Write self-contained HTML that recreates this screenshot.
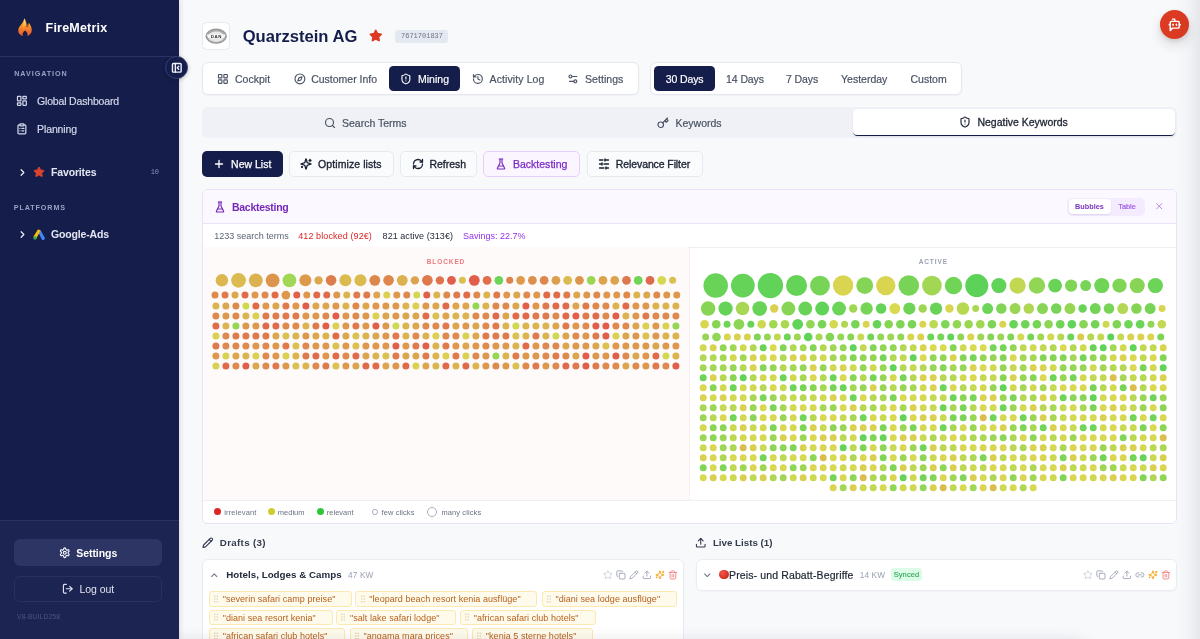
<!DOCTYPE html>
<html><head><meta charset="utf-8"><title>FireMetrix</title>
<style>
html,body{margin:0;padding:0;}
body{width:1200px;height:639px;overflow:hidden;position:relative;background:#f8f9fb;font-family:"Liberation Sans",sans-serif;}
.b{position:absolute;}
.ic{position:absolute;display:block;overflow:visible;}
.t{position:absolute;white-space:pre;line-height:1;}
#edge{position:absolute;left:1205px;top:-40px;width:30px;height:720px;box-shadow:0 0 22px 6px rgba(60,65,80,.19);}
#bot{position:absolute;left:150px;top:650px;width:935px;height:30px;border-radius:12px;box-shadow:0 0 18px 4px rgba(60,65,80,.30);}
#wrap{position:absolute;left:0;top:0;width:1200px;height:639px;overflow:hidden;will-change:transform;transform:translateZ(0);}
</style></head><body><div id="wrap">
<div class="b" style="left:202.3px;top:22.1px;width:28.20px;height:27.90px;background:#fff;border:1px solid #e6e9f0;border-radius:4.5px;box-sizing:border-box;"></div>
<svg class="ic" style="left:205.300px;top:27.800px;width:22.400px;height:16.400px" viewBox="0 0 44 32">
<ellipse cx="22" cy="16" rx="21" ry="15" fill="#a9a9a9"/>
<ellipse cx="22" cy="16" rx="19.500" ry="13.500" fill="none" stroke="#6f6f6f" stroke-width="1.200" stroke-dasharray="1.500 1.200"/>
<ellipse cx="22" cy="16.500" rx="15.500" ry="9.500" fill="#e9e9e9"/>
<path d="M8 22 Q22 31 36 22" fill="none" stroke="#f2f2f2" stroke-width="1.500"/>
<path d="M3.500 12.500 L40.500 12.500 L38 19.500 L6 19.500 Z" fill="#f7f7f7"/>
<text x="22.300" y="19.300" font-family="Liberation Sans" font-weight="700" font-size="8.600" text-anchor="middle" fill="#2b2b2b" letter-spacing="1.300">DAN</text>
</svg>
<div class="t" style="left:242.7px;top:36.5px;font-size:16.6px;color:#151d4b;font-weight:700;transform:translate(0,-50%);">Quarzstein AG</div>
<svg class="ic" style="left:369.35px;top:29.05px;width:13.5px;height:13.5px;color:#dc3a22" viewBox="0 0 24 24" fill="#dc3a22" stroke="currentColor" stroke-width="2" stroke-linecap="round" stroke-linejoin="round" ><path d="M11.525 2.295a.53.53 0 0 1 .95 0l2.31 4.679a2.123 2.123 0 0 0 1.595 1.16l5.166.756a.53.53 0 0 1 .294.904l-3.736 3.638a2.123 2.123 0 0 0-.611 1.878l.882 5.14a.53.53 0 0 1-.771.56l-4.618-2.428a2.122 2.122 0 0 0-1.973 0L6.396 21.01a.53.53 0 0 1-.77-.56l.881-5.139a2.122 2.122 0 0 0-.611-1.879L2.16 9.795a.53.53 0 0 1 .294-.906l5.165-.755a2.122 2.122 0 0 0 1.597-1.16z"/></svg>
<div class="b" style="left:394.9px;top:29.8px;width:53.60px;height:13.00px;background:#e4e8f0;border-radius:3px;"></div>
<div class="t" style="left:400.6px;top:36.3px;font-size:8.1px;color:#6b7488;font-weight:400;font-family:'Liberation Mono',monospace;transform:translate(0,-50%);transform:translate(0,-50%) scaleX(.865);transform-origin:0 50%;">7671701837</div>
<div class="b" style="left:1160px;top:10.2px;width:29.00px;height:29.00px;background:#dc3a22;border-radius:50%;box-shadow:0 6px 12px rgba(40,30,30,.14),0 2px 4px rgba(40,30,30,.10);"></div>
<svg class="ic" style="left:1167.75px;top:17.75px;width:13.5px;height:13.5px;color:#ffffff" viewBox="0 0 24 24" fill="none" stroke="currentColor" stroke-width="2.6" stroke-linecap="round" stroke-linejoin="round" ><path d="M12 6V2H8"/><path d="m8 18-4 4V8a2 2 0 0 1 2-2h12a2 2 0 0 1 2 2v8a2 2 0 0 1-2 2Z"/><path d="M2 12h2"/><path d="M9 11v2"/><path d="M15 11v2"/><path d="M20 12h2"/></svg>
<div class="b" style="left:202.3px;top:62px;width:436.50px;height:32.50px;background:#fff;border:1px solid #e4e7ee;border-radius:6px;box-sizing:border-box;box-shadow:0 1px 2px rgba(20,30,70,.04);"></div>
<svg class="ic" style="left:217.00px;top:72.50px;width:11.8px;height:11.8px;color:#4a5263" viewBox="0 0 24 24" fill="none" stroke="currentColor" stroke-width="2.3" stroke-linecap="round" stroke-linejoin="round" ><rect width="7" height="7" x="3" y="3" rx="1"/><rect width="7" height="7" x="14" y="3" rx="1"/><rect width="7" height="7" x="14" y="14" rx="1"/><rect width="7" height="7" x="3" y="14" rx="1"/></svg>
<div class="t" style="left:235px;top:78.6px;font-size:10.5px;color:#4a5263;font-weight:400;letter-spacing:0.02px;-webkit-text-stroke:0.2px #4a5263;transform:translate(0,-50%);">Cockpit</div>
<svg class="ic" style="left:293.50px;top:72.50px;width:11.8px;height:11.8px;color:#4a5263" viewBox="0 0 24 24" fill="none" stroke="currentColor" stroke-width="2.3" stroke-linecap="round" stroke-linejoin="round" ><circle cx="12" cy="12" r="10"/><polygon points="16.24 7.76 14.12 14.12 7.76 16.24 9.88 9.88 16.24 7.76"/></svg>
<div class="t" style="left:311.2px;top:78.6px;font-size:10.5px;color:#4a5263;font-weight:400;-webkit-text-stroke:0.2px #4a5263;transform:translate(0,-50%);">Customer Info</div>
<div class="b" style="left:389px;top:65.5px;width:71.30px;height:25.50px;background:#151d4b;border-radius:4.5px;"></div>
<svg class="ic" style="left:400.00px;top:72.50px;width:11.8px;height:11.8px;color:#ffffff" viewBox="0 0 24 24" fill="none" stroke="currentColor" stroke-width="2.3" stroke-linecap="round" stroke-linejoin="round" ><path d="M20 13c0 5-3.5 7.500-7.660 8.950a1 1 0 0 1-.670-.010C7.500 20.500 4 18 4 13V6a1 1 0 0 1 1-1c2 0 4.500-1.200 6.240-2.720a1.170 1.170 0 0 1 1.520 0C14.510 3.810 17 5 19 5a1 1 0 0 1 1 1z"/><path d="M12 8v4"/><path d="M12 16h.01"/></svg>
<div class="t" style="left:417.9px;top:78.6px;font-size:10.5px;color:#ffffff;font-weight:400;letter-spacing:0.05px;-webkit-text-stroke:0.2px #ffffff;transform:translate(0,-50%);">Mining</div>
<svg class="ic" style="left:471.80px;top:72.50px;width:11.8px;height:11.8px;color:#4a5263" viewBox="0 0 24 24" fill="none" stroke="currentColor" stroke-width="2.3" stroke-linecap="round" stroke-linejoin="round" ><path d="M3 12a9 9 0 1 0 9-9 9.750 9.750 0 0 0-6.740 2.740L3 8"/><path d="M3 3v5h5"/><path d="M12 7v5l4 2"/></svg>
<div class="t" style="left:489.6px;top:78.6px;font-size:10.5px;color:#4a5263;font-weight:400;letter-spacing:0.1px;-webkit-text-stroke:0.2px #4a5263;transform:translate(0,-50%);">Activity Log</div>
<svg class="ic" style="left:567.00px;top:72.50px;width:11.8px;height:11.8px;color:#4a5263" viewBox="0 0 24 24" fill="none" stroke="currentColor" stroke-width="2.3" stroke-linecap="round" stroke-linejoin="round" ><path d="M20 7h-9"/><path d="M14 17H5"/><circle cx="17" cy="17" r="3"/><circle cx="7" cy="7" r="3"/></svg>
<div class="t" style="left:585px;top:78.6px;font-size:10.5px;color:#4a5263;font-weight:400;letter-spacing:0.05px;-webkit-text-stroke:0.2px #4a5263;transform:translate(0,-50%);">Settings</div>
<div class="b" style="left:650.3px;top:62px;width:311.90px;height:32.50px;background:#fff;border:1px solid #e4e7ee;border-radius:6px;box-sizing:border-box;box-shadow:0 1px 2px rgba(20,30,70,.04);"></div>
<div class="b" style="left:654px;top:65.5px;width:61.20px;height:25.50px;background:#151d4b;border-radius:4.5px;"></div>
<div class="t" style="left:684.6px;top:78.6px;font-size:10.5px;color:#ffffff;font-weight:400;letter-spacing:-0.1px;-webkit-text-stroke:0.2px #ffffff;transform:translate(-50%,-50%);">30 Days</div>
<div class="t" style="left:745px;top:78.6px;font-size:10.5px;color:#4a5263;font-weight:400;letter-spacing:-0.1px;-webkit-text-stroke:0.2px #4a5263;transform:translate(-50%,-50%);">14 Days</div>
<div class="t" style="left:802.1px;top:78.6px;font-size:10.5px;color:#4a5263;font-weight:400;letter-spacing:-0.1px;-webkit-text-stroke:0.2px #4a5263;transform:translate(-50%,-50%);">7 Days</div>
<div class="t" style="left:864.2px;top:78.6px;font-size:10.5px;color:#4a5263;font-weight:400;-webkit-text-stroke:0.2px #4a5263;transform:translate(-50%,-50%);">Yesterday</div>
<div class="t" style="left:928.6px;top:78.6px;font-size:10.5px;color:#4a5263;font-weight:400;-webkit-text-stroke:0.2px #4a5263;transform:translate(-50%,-50%);">Custom</div>
<div class="b" style="left:202.4px;top:107.2px;width:974.80px;height:31.10px;background:#eff1f6;border-radius:6px;"></div>
<svg class="ic" style="left:324.40px;top:116.80px;width:12px;height:12px;color:#4a5263" viewBox="0 0 24 24" fill="none" stroke="currentColor" stroke-width="2.3" stroke-linecap="round" stroke-linejoin="round" ><circle cx="11" cy="11" r="8"/><path d="m21 21-4.300-4.300"/></svg>
<div class="t" style="left:342px;top:122.5px;font-size:10.5px;color:#4a5263;font-weight:400;-webkit-text-stroke:0.2px #4a5263;transform:translate(0,-50%);">Search Terms</div>
<svg class="ic" style="left:657.30px;top:116.80px;width:12px;height:12px;color:#4a5263" viewBox="0 0 24 24" fill="none" stroke="currentColor" stroke-width="2.3" stroke-linecap="round" stroke-linejoin="round" ><circle cx="7.500" cy="15.500" r="5.500"/><path d="m21 2-9.600 9.600"/><path d="m15.500 7.500 3 3L22 7l-3-3"/></svg>
<div class="t" style="left:675.5px;top:122.5px;font-size:10.5px;color:#4a5263;font-weight:400;-webkit-text-stroke:0.2px #4a5263;transform:translate(0,-50%);">Keywords</div>
<div class="b" style="left:853.1px;top:108.9px;width:321.50px;height:27.50px;background:#fff;border-radius:4.5px;border-bottom:1.5px solid #151d4b;box-sizing:border-box;box-shadow:0 1px 2px rgba(20,30,70,.08);"></div>
<svg class="ic" style="left:959.20px;top:115.80px;width:12px;height:12px;color:#1d2433" viewBox="0 0 24 24" fill="none" stroke="currentColor" stroke-width="2.3" stroke-linecap="round" stroke-linejoin="round" ><path d="M20 13c0 5-3.5 7.500-7.660 8.950a1 1 0 0 1-.670-.010C7.500 20.500 4 18 4 13V6a1 1 0 0 1 1-1c2 0 4.500-1.200 6.240-2.720a1.170 1.170 0 0 1 1.520 0C14.510 3.810 17 5 19 5a1 1 0 0 1 1 1z"/><path d="M12 8v4"/><path d="M12 16h.01"/></svg>
<div class="t" style="left:977.4px;top:122px;font-size:10.5px;color:#1d2433;font-weight:400;-webkit-text-stroke:0.3px #1d2433;transform:translate(0,-50%);">Negative Keywords</div>
<div class="b" style="left:202.4px;top:150.7px;width:80.60px;height:26.70px;background:#151d4b;border-radius:5px;"></div>
<svg class="ic" style="left:213.20px;top:158.10px;width:12px;height:12px;color:#ffffff" viewBox="0 0 24 24" fill="none" stroke="currentColor" stroke-width="2.6" stroke-linecap="round" stroke-linejoin="round" ><path d="M5 12h14"/><path d="M12 5v14"/></svg>
<div class="t" style="left:231.1px;top:164.2px;font-size:10.5px;color:#ffffff;font-weight:400;-webkit-text-stroke:0.25px #ffffff;transform:translate(0,-50%);">New List</div>
<div class="b" style="left:289.4px;top:150.7px;width:104.20px;height:26.70px;background:#fafbfd;border:1px solid #e6e9f0;border-radius:5px;box-sizing:border-box;"></div>
<svg class="ic" style="left:300.20px;top:158.10px;width:12px;height:12px;color:#1a2131" viewBox="0 0 24 24" fill="none" stroke="currentColor" stroke-width="2.6" stroke-linecap="round" stroke-linejoin="round" ><path d="M9.937 15.500A2 2 0 0 0 8.500 14.063l-6.135-1.582a.5.5 0 0 1 0-.962L8.500 9.936A2 2 0 0 0 9.937 8.500l1.582-6.135a.5.5 0 0 1 .963 0L14.063 8.500A2 2 0 0 0 15.500 9.937l6.135 1.581a.5.5 0 0 1 0 .964L15.500 14.063a2 2 0 0 0-1.437 1.437l-1.582 6.135a.5.5 0 0 1-.963 0z"/><path d="M20 3v4"/><path d="M22 5h-4"/><path d="M4 17v2"/><path d="M5 18H3"/></svg>
<div class="t" style="left:318.1px;top:164.2px;font-size:10.5px;color:#1a2131;font-weight:400;letter-spacing:0.08px;-webkit-text-stroke:0.33px #1a2131;transform:translate(0,-50%);">Optimize lists</div>
<div class="b" style="left:400.2px;top:150.7px;width:76.50px;height:26.70px;background:#fafbfd;border:1px solid #e6e9f0;border-radius:5px;box-sizing:border-box;"></div>
<svg class="ic" style="left:411.50px;top:158.10px;width:12px;height:12px;color:#1a2131" viewBox="0 0 24 24" fill="none" stroke="currentColor" stroke-width="2.6" stroke-linecap="round" stroke-linejoin="round" ><path d="M3 12a9 9 0 0 1 9-9 9.750 9.750 0 0 1 6.740 2.740L21 8"/><path d="M21 3v5h-5"/><path d="M21 12a9 9 0 0 1-9 9 9.750 9.750 0 0 1-6.740-2.740L3 16"/><path d="M8 16H3v5"/></svg>
<div class="t" style="left:429.4px;top:164.2px;font-size:10.5px;color:#1a2131;font-weight:400;-webkit-text-stroke:0.33px #1a2131;transform:translate(0,-50%);">Refresh</div>
<div class="b" style="left:483.3px;top:150.7px;width:97.20px;height:26.70px;background:#faf5ff;border:1px solid #e4cffb;border-radius:5px;box-sizing:border-box;"></div>
<svg class="ic" style="left:495.00px;top:158.10px;width:12px;height:12px;color:#7a2cc6" viewBox="0 0 24 24" fill="none" stroke="currentColor" stroke-width="2.3" stroke-linecap="round" stroke-linejoin="round" ><path d="M10 2v7.527a2 2 0 0 1-.211.896L4.720 20.550a1 1 0 0 0 .9 1.450h12.760a1 1 0 0 0 .9-1.450l-5.069-10.127A2 2 0 0 1 14 9.527V2"/><path d="M8.500 2h7"/><path d="M7 16h10"/></svg>
<div class="t" style="left:512.9px;top:164.2px;font-size:10.5px;color:#7a2cc6;font-weight:400;letter-spacing:0.02px;-webkit-text-stroke:0.25px #7a2cc6;transform:translate(0,-50%);">Backtesting</div>
<div class="b" style="left:586.6px;top:150.7px;width:116.20px;height:26.70px;background:#fafbfd;border:1px solid #e6e9f0;border-radius:5px;box-sizing:border-box;"></div>
<svg class="ic" style="left:597.90px;top:158.10px;width:12px;height:12px;color:#1a2131" viewBox="0 0 24 24" fill="none" stroke="currentColor" stroke-width="2.6" stroke-linecap="round" stroke-linejoin="round" ><line x1="21" x2="14" y1="4" y2="4"/><line x1="10" x2="3" y1="4" y2="4"/><line x1="21" x2="12" y1="12" y2="12"/><line x1="8" x2="3" y1="12" y2="12"/><line x1="21" x2="16" y1="20" y2="20"/><line x1="12" x2="3" y1="20" y2="20"/><line x1="14" x2="14" y1="2" y2="6"/><line x1="8" x2="8" y1="10" y2="14"/><line x1="16" x2="16" y1="18" y2="22"/></svg>
<div class="t" style="left:615.8px;top:164.2px;font-size:10.5px;color:#1a2131;font-weight:400;letter-spacing:-0.1px;-webkit-text-stroke:0.33px #1a2131;transform:translate(0,-50%);">Relevance Filter</div>
<div class="b" style="left:202.1px;top:188.8px;width:974.70px;height:334.90px;background:#fff;border:1px solid #ebe1fb;border-radius:5px;box-sizing:border-box;overflow:hidden;"></div>
<div class="b" style="left:203.1px;top:189.8px;width:972.70px;height:33.40px;background:#fbf8ff;border-bottom:1px solid #ebe1fb;border-radius:4px 4px 0 0;"></div>
<svg class="ic" style="left:213.60px;top:201.00px;width:12px;height:12px;color:#7527b8" viewBox="0 0 24 24" fill="none" stroke="currentColor" stroke-width="2.3" stroke-linecap="round" stroke-linejoin="round" ><path d="M10 2v7.527a2 2 0 0 1-.211.896L4.720 20.550a1 1 0 0 0 .9 1.450h12.760a1 1 0 0 0 .9-1.450l-5.069-10.127A2 2 0 0 1 14 9.527V2"/><path d="M8.500 2h7"/><path d="M7 16h10"/></svg>
<div class="t" style="left:232px;top:207.1px;font-size:10.5px;color:#7527b8;font-weight:700;letter-spacing:-0.28px;transform:translate(0,-50%);">Backtesting</div>
<div class="b" style="left:1067px;top:197.5px;width:77.50px;height:18.30px;background:#f4ebfe;border-radius:5px;"></div>
<div class="b" style="left:1068.5px;top:198.8px;width:42.30px;height:15.70px;background:#fff;border-radius:4px;box-shadow:0 1px 1.5px rgba(80,40,120,.12);"></div>
<div class="t" style="left:1089.4px;top:206.8px;font-size:7.3px;color:#7a36bc;font-weight:700;transform:translate(-50%,-50%);">Bubbles</div>
<div class="t" style="left:1127px;top:206.7px;font-size:7.3px;color:#a05be6;font-weight:400;-webkit-text-stroke:0.2px #a05be6;transform:translate(-50%,-50%);">Table</div>
<svg class="ic" style="left:1154.00px;top:201.15px;width:10.5px;height:10.5px;color:#a273de" viewBox="0 0 24 24" fill="none" stroke="currentColor" stroke-width="1.9" stroke-linecap="round" stroke-linejoin="round" ><path d="M18 6 6 18"/><path d="m6 6 12 12"/></svg>
<div class="b" style="left:203.1px;top:246.5px;width:972.70px;height:0.80px;background:#eef0f4;"></div>
<div class="t" style="left:214.3px;top:236.1px;font-size:9px;color:#5b6475;font-weight:400;transform:translate(0,-50%);">1233 search terms</div>
<div class="t" style="left:298.2px;top:236.1px;font-size:9px;color:#dc2626;font-weight:400;letter-spacing:0.1px;transform:translate(0,-50%);">412 blocked (92€)</div>
<div class="t" style="left:382.6px;top:236.1px;font-size:9px;color:#1d2433;font-weight:400;letter-spacing:0.05px;transform:translate(0,-50%);">821 active (313€)</div>
<div class="t" style="left:463px;top:236.1px;font-size:9px;color:#9333ea;font-weight:400;transform:translate(0,-50%);">Savings: 22.7%</div>
<div class="b" style="left:203.1px;top:247.3px;width:486.30px;height:252.90px;background:#fefafa;"></div>
<div class="b" style="left:688.900px;top:247.300px;width:0;height:252.900px;border-left:1px dotted #f8dcdc;"></div>
<div class="t" style="left:446px;top:261.6px;font-size:6.5px;color:#f0787c;font-weight:700;letter-spacing:0.9px;transform:translate(-50%,-50%);">BLOCKED</div>
<div class="t" style="left:933.3px;top:261.6px;font-size:6.5px;color:#9aa1b0;font-weight:700;letter-spacing:0.9px;transform:translate(-50%,-50%);">ACTIVE</div>
<div class="b" style="left:203.1px;top:500.2px;width:972.70px;height:0.80px;background:#eef0f4;"></div>
<div class="b" style="left:214.3px;top:508.4px;width:7.00px;height:7.00px;background:#dc2626;border-radius:50%;"></div>
<div class="t" style="left:224.2px;top:512.6px;font-size:7.5px;color:#6b7385;font-weight:400;letter-spacing:0.15px;transform:translate(0,-50%);">irrelevant</div>
<div class="b" style="left:267.9px;top:508.4px;width:7.00px;height:7.00px;background:#cfcc2d;border-radius:50%;"></div>
<div class="t" style="left:277.8px;top:512.6px;font-size:7.5px;color:#6b7385;font-weight:400;transform:translate(0,-50%);">medium</div>
<div class="b" style="left:316.9px;top:508.4px;width:7.00px;height:7.00px;background:#2fc63c;border-radius:50%;"></div>
<div class="t" style="left:326.8px;top:512.6px;font-size:7.5px;color:#6b7385;font-weight:400;transform:translate(0,-50%);">relevant</div>
<div class="b" style="left:372px;top:509.1px;width:5.70px;height:5.70px;border:1px solid #a3a9b8;border-radius:50%;box-sizing:border-box;"></div>
<div class="t" style="left:381.6px;top:512.6px;font-size:7.5px;color:#6b7385;font-weight:400;letter-spacing:0.08px;transform:translate(0,-50%);">few clicks</div>
<div class="b" style="left:426.7px;top:507px;width:10.00px;height:10.00px;border:1px solid #aab0bd;border-radius:50%;box-sizing:border-box;"></div>
<div class="t" style="left:441.4px;top:512.6px;font-size:7.5px;color:#6b7385;font-weight:400;letter-spacing:0.1px;transform:translate(0,-50%);">many clicks</div>
<svg class="ic" style="left:0;top:0;width:1200px;height:639px" viewBox="0 0 1200 639">
<circle cx="221.91" cy="280.36" r="6.26" fill="#dcb64f"/>
<circle cx="238.53" cy="280.36" r="7.36" fill="#dbbb4f"/>
<circle cx="255.80" cy="280.36" r="6.91" fill="#dcb14f"/>
<circle cx="272.62" cy="280.36" r="6.91" fill="#dd954d"/>
<circle cx="289.44" cy="280.36" r="6.91" fill="#a0d754"/>
<circle cx="305.36" cy="280.36" r="6.01" fill="#dd9a4d"/>
<circle cx="318.57" cy="280.36" r="4.21" fill="#dca84e"/>
<circle cx="331.08" cy="280.36" r="5.31" fill="#de7d4c"/>
<circle cx="345.40" cy="280.36" r="6.01" fill="#dbbb4f"/>
<circle cx="360.42" cy="280.36" r="6.01" fill="#dbbb4f"/>
<circle cx="374.83" cy="280.36" r="5.41" fill="#de874c"/>
<circle cx="388.55" cy="280.36" r="5.31" fill="#de874c"/>
<circle cx="402.26" cy="280.36" r="5.41" fill="#dcb14f"/>
<circle cx="414.88" cy="280.36" r="4.21" fill="#dca34e"/>
<circle cx="427.39" cy="280.36" r="5.31" fill="#df784c"/>
<circle cx="439.90" cy="280.36" r="4.21" fill="#df734b"/>
<circle cx="451.49" cy="280.36" r="4.38" fill="#e05e4a"/>
<circle cx="462.38" cy="280.36" r="3.50" fill="#dbbf4f"/>
<circle cx="474.29" cy="280.36" r="5.41" fill="#e05e4a"/>
<circle cx="487.08" cy="280.36" r="4.38" fill="#df6e4b"/>
<circle cx="498.84" cy="280.36" r="4.38" fill="#6cd457"/>
<circle cx="509.73" cy="280.36" r="3.50" fill="#de824c"/>
<circle cx="520.61" cy="280.36" r="4.38" fill="#dd9a4d"/>
<circle cx="532.37" cy="280.36" r="4.38" fill="#dd904d"/>
<circle cx="544.14" cy="280.36" r="4.38" fill="#de874c"/>
<circle cx="555.90" cy="280.36" r="4.38" fill="#dd9f4e"/>
<circle cx="567.66" cy="280.36" r="4.38" fill="#dbbb4f"/>
<circle cx="579.42" cy="280.36" r="4.38" fill="#dd954d"/>
<circle cx="591.19" cy="280.36" r="4.38" fill="#9ad654"/>
<circle cx="602.95" cy="280.36" r="4.38" fill="#dca34e"/>
<circle cx="614.71" cy="280.36" r="4.38" fill="#dca34e"/>
<circle cx="626.47" cy="280.36" r="4.38" fill="#df784c"/>
<circle cx="638.23" cy="280.36" r="4.38" fill="#70d457"/>
<circle cx="650.00" cy="280.36" r="4.38" fill="#df694b"/>
<circle cx="661.76" cy="280.36" r="4.38" fill="#d5d951"/>
<circle cx="672.65" cy="280.36" r="3.50" fill="#dbbf4f"/>
<circle cx="215.02" cy="295.10" r="3.50" fill="#de894d"/>
<circle cx="225.02" cy="295.10" r="3.50" fill="#df7a4c"/>
<circle cx="235.02" cy="295.10" r="3.50" fill="#dca64e"/>
<circle cx="245.02" cy="295.10" r="3.50" fill="#df6b4b"/>
<circle cx="255.02" cy="295.10" r="3.50" fill="#dd984d"/>
<circle cx="265.02" cy="295.10" r="3.50" fill="#de894d"/>
<circle cx="275.02" cy="295.10" r="3.50" fill="#df6b4b"/>
<circle cx="285.90" cy="295.10" r="4.38" fill="#dd984d"/>
<circle cx="296.77" cy="295.10" r="3.50" fill="#e05e4a"/>
<circle cx="306.77" cy="295.10" r="3.50" fill="#dd984d"/>
<circle cx="316.77" cy="295.10" r="3.50" fill="#df6b4b"/>
<circle cx="326.77" cy="295.10" r="3.50" fill="#df6b4b"/>
<circle cx="336.77" cy="295.10" r="3.50" fill="#dd984d"/>
<circle cx="346.77" cy="295.10" r="3.50" fill="#dcb44f"/>
<circle cx="356.77" cy="295.10" r="3.50" fill="#df7a4c"/>
<circle cx="366.77" cy="295.10" r="3.50" fill="#df7a4c"/>
<circle cx="376.77" cy="295.10" r="3.50" fill="#dca64e"/>
<circle cx="386.77" cy="295.10" r="3.50" fill="#dad150"/>
<circle cx="396.77" cy="295.10" r="3.50" fill="#dd984d"/>
<circle cx="406.77" cy="295.10" r="3.50" fill="#de894d"/>
<circle cx="416.77" cy="295.10" r="3.50" fill="#d0d951"/>
<circle cx="426.77" cy="295.10" r="3.50" fill="#e05e4a"/>
<circle cx="436.77" cy="295.10" r="3.50" fill="#dcb44f"/>
<circle cx="446.77" cy="295.10" r="3.50" fill="#de894d"/>
<circle cx="456.77" cy="295.10" r="3.50" fill="#df7a4c"/>
<circle cx="466.77" cy="295.10" r="3.50" fill="#df6b4b"/>
<circle cx="476.77" cy="295.10" r="3.50" fill="#de894d"/>
<circle cx="486.77" cy="295.10" r="3.50" fill="#dcb44f"/>
<circle cx="496.77" cy="295.10" r="3.50" fill="#df7a4c"/>
<circle cx="506.77" cy="295.10" r="3.50" fill="#dd984d"/>
<circle cx="516.77" cy="295.10" r="3.50" fill="#dca64e"/>
<circle cx="526.77" cy="295.10" r="3.50" fill="#de894d"/>
<circle cx="536.77" cy="295.10" r="3.50" fill="#dd984d"/>
<circle cx="546.77" cy="295.10" r="3.50" fill="#df6b4b"/>
<circle cx="556.77" cy="295.10" r="3.50" fill="#df6b4b"/>
<circle cx="566.77" cy="295.10" r="3.50" fill="#df7a4c"/>
<circle cx="576.77" cy="295.10" r="3.50" fill="#dca64e"/>
<circle cx="586.77" cy="295.10" r="3.50" fill="#dd984d"/>
<circle cx="596.77" cy="295.10" r="3.50" fill="#de894d"/>
<circle cx="606.77" cy="295.10" r="3.50" fill="#dd984d"/>
<circle cx="616.77" cy="295.10" r="3.50" fill="#dd984d"/>
<circle cx="626.77" cy="295.10" r="3.50" fill="#de894d"/>
<circle cx="636.77" cy="295.10" r="3.50" fill="#dcb44f"/>
<circle cx="646.77" cy="295.10" r="3.50" fill="#dca64e"/>
<circle cx="656.77" cy="295.10" r="3.50" fill="#de894d"/>
<circle cx="666.77" cy="295.10" r="3.50" fill="#dd984d"/>
<circle cx="676.77" cy="295.10" r="3.50" fill="#dd984d"/>
<circle cx="215.90" cy="305.97" r="3.50" fill="#dcb44f"/>
<circle cx="225.90" cy="305.97" r="3.50" fill="#dca64e"/>
<circle cx="235.90" cy="305.97" r="3.50" fill="#de894d"/>
<circle cx="245.90" cy="305.97" r="3.50" fill="#d0d951"/>
<circle cx="255.90" cy="305.97" r="3.50" fill="#df6b4b"/>
<circle cx="265.90" cy="305.97" r="3.50" fill="#dd984d"/>
<circle cx="275.90" cy="305.97" r="3.50" fill="#dca64e"/>
<circle cx="285.90" cy="305.97" r="3.50" fill="#df7a4c"/>
<circle cx="295.90" cy="305.97" r="3.50" fill="#dd984d"/>
<circle cx="305.90" cy="305.97" r="3.50" fill="#e05e4a"/>
<circle cx="315.90" cy="305.97" r="3.50" fill="#dca64e"/>
<circle cx="325.90" cy="305.97" r="3.50" fill="#dca64e"/>
<circle cx="335.90" cy="305.97" r="3.50" fill="#dd984d"/>
<circle cx="345.90" cy="305.97" r="3.50" fill="#dcb44f"/>
<circle cx="355.90" cy="305.97" r="3.50" fill="#de894d"/>
<circle cx="365.90" cy="305.97" r="3.50" fill="#dca64e"/>
<circle cx="375.90" cy="305.97" r="3.50" fill="#dd984d"/>
<circle cx="385.90" cy="305.97" r="3.50" fill="#dd984d"/>
<circle cx="395.90" cy="305.97" r="3.50" fill="#dd984d"/>
<circle cx="405.90" cy="305.97" r="3.50" fill="#dcb44f"/>
<circle cx="415.90" cy="305.97" r="3.50" fill="#dad150"/>
<circle cx="425.90" cy="305.97" r="3.50" fill="#dd984d"/>
<circle cx="435.90" cy="305.97" r="3.50" fill="#dca64e"/>
<circle cx="445.90" cy="305.97" r="3.50" fill="#df6b4b"/>
<circle cx="455.90" cy="305.97" r="3.50" fill="#dca64e"/>
<circle cx="465.90" cy="305.97" r="3.50" fill="#dca64e"/>
<circle cx="475.90" cy="305.97" r="3.50" fill="#95d654"/>
<circle cx="485.90" cy="305.97" r="3.50" fill="#dcb44f"/>
<circle cx="495.90" cy="305.97" r="3.50" fill="#de894d"/>
<circle cx="505.90" cy="305.97" r="3.50" fill="#de894d"/>
<circle cx="515.90" cy="305.97" r="3.50" fill="#dca64e"/>
<circle cx="525.90" cy="305.97" r="3.50" fill="#e05e4a"/>
<circle cx="535.90" cy="305.97" r="3.50" fill="#dd984d"/>
<circle cx="545.90" cy="305.97" r="3.50" fill="#df7a4c"/>
<circle cx="555.90" cy="305.97" r="3.50" fill="#df6b4b"/>
<circle cx="565.90" cy="305.97" r="3.50" fill="#df6b4b"/>
<circle cx="575.90" cy="305.97" r="3.50" fill="#dca64e"/>
<circle cx="585.90" cy="305.97" r="3.50" fill="#df7a4c"/>
<circle cx="595.90" cy="305.97" r="3.50" fill="#de894d"/>
<circle cx="605.90" cy="305.97" r="3.50" fill="#de894d"/>
<circle cx="615.90" cy="305.97" r="3.50" fill="#dcb44f"/>
<circle cx="625.90" cy="305.97" r="3.50" fill="#df6b4b"/>
<circle cx="635.90" cy="305.97" r="3.50" fill="#dd984d"/>
<circle cx="645.90" cy="305.97" r="3.50" fill="#dd984d"/>
<circle cx="655.90" cy="305.97" r="3.50" fill="#dcb44f"/>
<circle cx="665.90" cy="305.97" r="3.50" fill="#dcb44f"/>
<circle cx="675.90" cy="305.97" r="3.50" fill="#dcb44f"/>
<circle cx="215.90" cy="315.97" r="3.50" fill="#de894d"/>
<circle cx="225.90" cy="315.97" r="3.50" fill="#dd984d"/>
<circle cx="235.90" cy="315.97" r="3.50" fill="#de894d"/>
<circle cx="245.90" cy="315.97" r="3.50" fill="#dcb44f"/>
<circle cx="255.90" cy="315.97" r="3.50" fill="#dad150"/>
<circle cx="265.90" cy="315.97" r="3.50" fill="#df7a4c"/>
<circle cx="275.90" cy="315.97" r="3.50" fill="#df7a4c"/>
<circle cx="285.90" cy="315.97" r="3.50" fill="#df7a4c"/>
<circle cx="295.90" cy="315.97" r="3.50" fill="#df7a4c"/>
<circle cx="305.90" cy="315.97" r="3.50" fill="#dd984d"/>
<circle cx="315.90" cy="315.97" r="3.50" fill="#dd984d"/>
<circle cx="325.90" cy="315.97" r="3.50" fill="#de894d"/>
<circle cx="335.90" cy="315.97" r="3.50" fill="#e05e4a"/>
<circle cx="345.90" cy="315.97" r="3.50" fill="#dd984d"/>
<circle cx="355.90" cy="315.97" r="3.50" fill="#de894d"/>
<circle cx="365.90" cy="315.97" r="3.50" fill="#dd984d"/>
<circle cx="375.90" cy="315.97" r="3.50" fill="#dad150"/>
<circle cx="385.90" cy="315.97" r="3.50" fill="#dca64e"/>
<circle cx="395.90" cy="315.97" r="3.50" fill="#dd984d"/>
<circle cx="405.90" cy="315.97" r="3.50" fill="#dca64e"/>
<circle cx="415.90" cy="315.97" r="3.50" fill="#dca64e"/>
<circle cx="425.90" cy="315.97" r="3.50" fill="#df6b4b"/>
<circle cx="435.90" cy="315.97" r="3.50" fill="#dbc14f"/>
<circle cx="445.90" cy="315.97" r="3.50" fill="#dca64e"/>
<circle cx="455.90" cy="315.97" r="3.50" fill="#dcb44f"/>
<circle cx="465.90" cy="315.97" r="3.50" fill="#dcb44f"/>
<circle cx="475.90" cy="315.97" r="3.50" fill="#de894d"/>
<circle cx="485.90" cy="315.97" r="3.50" fill="#de894d"/>
<circle cx="495.90" cy="315.97" r="3.50" fill="#df6b4b"/>
<circle cx="505.90" cy="315.97" r="3.50" fill="#dca64e"/>
<circle cx="515.90" cy="315.97" r="3.50" fill="#df6b4b"/>
<circle cx="525.90" cy="315.97" r="3.50" fill="#df6b4b"/>
<circle cx="535.90" cy="315.97" r="3.50" fill="#df7a4c"/>
<circle cx="545.90" cy="315.97" r="3.50" fill="#df7a4c"/>
<circle cx="555.90" cy="315.97" r="3.50" fill="#de894d"/>
<circle cx="565.90" cy="315.97" r="3.50" fill="#df6b4b"/>
<circle cx="575.90" cy="315.97" r="3.50" fill="#e05e4a"/>
<circle cx="585.90" cy="315.97" r="3.50" fill="#df7a4c"/>
<circle cx="595.90" cy="315.97" r="3.50" fill="#df6b4b"/>
<circle cx="605.90" cy="315.97" r="3.50" fill="#de894d"/>
<circle cx="615.90" cy="315.97" r="3.50" fill="#e05e4a"/>
<circle cx="625.90" cy="315.97" r="3.50" fill="#dcb44f"/>
<circle cx="635.90" cy="315.97" r="3.50" fill="#dd984d"/>
<circle cx="645.90" cy="315.97" r="3.50" fill="#df7a4c"/>
<circle cx="655.90" cy="315.97" r="3.50" fill="#de894d"/>
<circle cx="665.90" cy="315.97" r="3.50" fill="#de894d"/>
<circle cx="675.90" cy="315.97" r="3.50" fill="#de894d"/>
<circle cx="215.90" cy="325.97" r="3.50" fill="#df6b4b"/>
<circle cx="225.90" cy="325.97" r="3.50" fill="#dcb44f"/>
<circle cx="235.90" cy="325.97" r="3.50" fill="#95d654"/>
<circle cx="245.90" cy="325.97" r="3.50" fill="#dd984d"/>
<circle cx="255.90" cy="325.97" r="3.50" fill="#dd984d"/>
<circle cx="265.90" cy="325.97" r="3.50" fill="#df6b4b"/>
<circle cx="275.90" cy="325.97" r="3.50" fill="#df6b4b"/>
<circle cx="285.90" cy="325.97" r="3.50" fill="#de894d"/>
<circle cx="295.90" cy="325.97" r="3.50" fill="#de894d"/>
<circle cx="305.90" cy="325.97" r="3.50" fill="#dcb44f"/>
<circle cx="315.90" cy="325.97" r="3.50" fill="#df7a4c"/>
<circle cx="325.90" cy="325.97" r="3.50" fill="#e05e4a"/>
<circle cx="335.90" cy="325.97" r="3.50" fill="#dad150"/>
<circle cx="345.90" cy="325.97" r="3.50" fill="#dd984d"/>
<circle cx="355.90" cy="325.97" r="3.50" fill="#df7a4c"/>
<circle cx="365.90" cy="325.97" r="3.50" fill="#dd984d"/>
<circle cx="375.90" cy="325.97" r="3.50" fill="#e05e4a"/>
<circle cx="385.90" cy="325.97" r="3.50" fill="#dd984d"/>
<circle cx="395.90" cy="325.97" r="3.50" fill="#d0d951"/>
<circle cx="405.90" cy="325.97" r="3.50" fill="#dcb44f"/>
<circle cx="415.90" cy="325.97" r="3.50" fill="#dca64e"/>
<circle cx="425.90" cy="325.97" r="3.50" fill="#de894d"/>
<circle cx="435.90" cy="325.97" r="3.50" fill="#de894d"/>
<circle cx="445.90" cy="325.97" r="3.50" fill="#df7a4c"/>
<circle cx="455.90" cy="325.97" r="3.50" fill="#dca64e"/>
<circle cx="465.90" cy="325.97" r="3.50" fill="#dd984d"/>
<circle cx="475.90" cy="325.97" r="3.50" fill="#dca64e"/>
<circle cx="485.90" cy="325.97" r="3.50" fill="#de894d"/>
<circle cx="495.90" cy="325.97" r="3.50" fill="#df7a4c"/>
<circle cx="505.90" cy="325.97" r="3.50" fill="#dcb44f"/>
<circle cx="515.90" cy="325.97" r="3.50" fill="#d0d951"/>
<circle cx="525.90" cy="325.97" r="3.50" fill="#dcb44f"/>
<circle cx="535.90" cy="325.97" r="3.50" fill="#dcb44f"/>
<circle cx="545.90" cy="325.97" r="3.50" fill="#dcb44f"/>
<circle cx="555.90" cy="325.97" r="3.50" fill="#dca64e"/>
<circle cx="565.90" cy="325.97" r="3.50" fill="#df7a4c"/>
<circle cx="575.90" cy="325.97" r="3.50" fill="#dd984d"/>
<circle cx="585.90" cy="325.97" r="3.50" fill="#de894d"/>
<circle cx="595.90" cy="325.97" r="3.50" fill="#e05e4a"/>
<circle cx="605.90" cy="325.97" r="3.50" fill="#e05e4a"/>
<circle cx="615.90" cy="325.97" r="3.50" fill="#de894d"/>
<circle cx="625.90" cy="325.97" r="3.50" fill="#de894d"/>
<circle cx="635.90" cy="325.97" r="3.50" fill="#dca64e"/>
<circle cx="645.90" cy="325.97" r="3.50" fill="#dad150"/>
<circle cx="655.90" cy="325.97" r="3.50" fill="#dd984d"/>
<circle cx="665.90" cy="325.97" r="3.50" fill="#dad150"/>
<circle cx="675.90" cy="325.97" r="3.50" fill="#95d654"/>
<circle cx="215.90" cy="335.97" r="3.50" fill="#dad150"/>
<circle cx="225.90" cy="335.97" r="3.50" fill="#de894d"/>
<circle cx="235.90" cy="335.97" r="3.50" fill="#df7a4c"/>
<circle cx="245.90" cy="335.97" r="3.50" fill="#df7a4c"/>
<circle cx="255.90" cy="335.97" r="3.50" fill="#df7a4c"/>
<circle cx="265.90" cy="335.97" r="3.50" fill="#df7a4c"/>
<circle cx="275.90" cy="335.97" r="3.50" fill="#dca64e"/>
<circle cx="285.90" cy="335.97" r="3.50" fill="#dbc14f"/>
<circle cx="295.90" cy="335.97" r="3.50" fill="#dcb44f"/>
<circle cx="305.90" cy="335.97" r="3.50" fill="#dd984d"/>
<circle cx="315.90" cy="335.97" r="3.50" fill="#dca64e"/>
<circle cx="325.90" cy="335.97" r="3.50" fill="#dcb44f"/>
<circle cx="335.90" cy="335.97" r="3.50" fill="#df6b4b"/>
<circle cx="345.90" cy="335.97" r="3.50" fill="#dca64e"/>
<circle cx="355.90" cy="335.97" r="3.50" fill="#dbc14f"/>
<circle cx="365.90" cy="335.97" r="3.50" fill="#dcb44f"/>
<circle cx="375.90" cy="335.97" r="3.50" fill="#dca64e"/>
<circle cx="385.90" cy="335.97" r="3.50" fill="#dd984d"/>
<circle cx="395.90" cy="335.97" r="3.50" fill="#df7a4c"/>
<circle cx="405.90" cy="335.97" r="3.50" fill="#dcb44f"/>
<circle cx="415.90" cy="335.97" r="3.50" fill="#de894d"/>
<circle cx="425.90" cy="335.97" r="3.50" fill="#dcb44f"/>
<circle cx="435.90" cy="335.97" r="3.50" fill="#dad150"/>
<circle cx="445.90" cy="335.97" r="3.50" fill="#de894d"/>
<circle cx="455.90" cy="335.97" r="3.50" fill="#de894d"/>
<circle cx="465.90" cy="335.97" r="3.50" fill="#dad150"/>
<circle cx="475.90" cy="335.97" r="3.50" fill="#dca64e"/>
<circle cx="485.90" cy="335.97" r="3.50" fill="#df7a4c"/>
<circle cx="495.90" cy="335.97" r="3.50" fill="#df7a4c"/>
<circle cx="505.90" cy="335.97" r="3.50" fill="#df7a4c"/>
<circle cx="515.90" cy="335.97" r="3.50" fill="#dbc14f"/>
<circle cx="525.90" cy="335.97" r="3.50" fill="#dcb44f"/>
<circle cx="535.90" cy="335.97" r="3.50" fill="#df7a4c"/>
<circle cx="545.90" cy="335.97" r="3.50" fill="#dcb44f"/>
<circle cx="555.90" cy="335.97" r="3.50" fill="#d0d951"/>
<circle cx="565.90" cy="335.97" r="3.50" fill="#dca64e"/>
<circle cx="575.90" cy="335.97" r="3.50" fill="#de894d"/>
<circle cx="585.90" cy="335.97" r="3.50" fill="#dd984d"/>
<circle cx="595.90" cy="335.97" r="3.50" fill="#df7a4c"/>
<circle cx="605.90" cy="335.97" r="3.50" fill="#e05e4a"/>
<circle cx="615.90" cy="335.97" r="3.50" fill="#dad150"/>
<circle cx="625.90" cy="335.97" r="3.50" fill="#dca64e"/>
<circle cx="635.90" cy="335.97" r="3.50" fill="#dd984d"/>
<circle cx="645.90" cy="335.97" r="3.50" fill="#dbc14f"/>
<circle cx="655.90" cy="335.97" r="3.50" fill="#dd984d"/>
<circle cx="665.90" cy="335.97" r="3.50" fill="#dcb44f"/>
<circle cx="675.90" cy="335.97" r="3.50" fill="#dcb44f"/>
<circle cx="215.90" cy="345.97" r="3.50" fill="#df7a4c"/>
<circle cx="225.90" cy="345.97" r="3.50" fill="#de894d"/>
<circle cx="235.90" cy="345.97" r="3.50" fill="#de894d"/>
<circle cx="245.90" cy="345.97" r="3.50" fill="#de894d"/>
<circle cx="255.90" cy="345.97" r="3.50" fill="#dd984d"/>
<circle cx="265.90" cy="345.97" r="3.50" fill="#de894d"/>
<circle cx="275.90" cy="345.97" r="3.50" fill="#dd984d"/>
<circle cx="285.90" cy="345.97" r="3.50" fill="#df7a4c"/>
<circle cx="295.90" cy="345.97" r="3.50" fill="#dbc14f"/>
<circle cx="305.90" cy="345.97" r="3.50" fill="#de894d"/>
<circle cx="315.90" cy="345.97" r="3.50" fill="#dd984d"/>
<circle cx="325.90" cy="345.97" r="3.50" fill="#dd984d"/>
<circle cx="335.90" cy="345.97" r="3.50" fill="#dbc14f"/>
<circle cx="345.90" cy="345.97" r="3.50" fill="#dd984d"/>
<circle cx="355.90" cy="345.97" r="3.50" fill="#dbc14f"/>
<circle cx="365.90" cy="345.97" r="3.50" fill="#dd984d"/>
<circle cx="375.90" cy="345.97" r="3.50" fill="#dd984d"/>
<circle cx="385.90" cy="345.97" r="3.50" fill="#dd984d"/>
<circle cx="395.90" cy="345.97" r="3.50" fill="#e05e4a"/>
<circle cx="405.90" cy="345.97" r="3.50" fill="#dd984d"/>
<circle cx="415.90" cy="345.97" r="3.50" fill="#df7a4c"/>
<circle cx="425.90" cy="345.97" r="3.50" fill="#e05e4a"/>
<circle cx="435.90" cy="345.97" r="3.50" fill="#dcb44f"/>
<circle cx="445.90" cy="345.97" r="3.50" fill="#df7a4c"/>
<circle cx="455.90" cy="345.97" r="3.50" fill="#dd984d"/>
<circle cx="465.90" cy="345.97" r="3.50" fill="#dca64e"/>
<circle cx="475.90" cy="345.97" r="3.50" fill="#dd984d"/>
<circle cx="485.90" cy="345.97" r="3.50" fill="#de894d"/>
<circle cx="495.90" cy="345.97" r="3.50" fill="#dd984d"/>
<circle cx="505.90" cy="345.97" r="3.50" fill="#dd984d"/>
<circle cx="515.90" cy="345.97" r="3.50" fill="#dcb44f"/>
<circle cx="525.90" cy="345.97" r="3.50" fill="#df6b4b"/>
<circle cx="535.90" cy="345.97" r="3.50" fill="#dd984d"/>
<circle cx="545.90" cy="345.97" r="3.50" fill="#de894d"/>
<circle cx="555.90" cy="345.97" r="3.50" fill="#de894d"/>
<circle cx="565.90" cy="345.97" r="3.50" fill="#dca64e"/>
<circle cx="575.90" cy="345.97" r="3.50" fill="#dd984d"/>
<circle cx="585.90" cy="345.97" r="3.50" fill="#dd984d"/>
<circle cx="595.90" cy="345.97" r="3.50" fill="#dca64e"/>
<circle cx="605.90" cy="345.97" r="3.50" fill="#dbc14f"/>
<circle cx="615.90" cy="345.97" r="3.50" fill="#dd984d"/>
<circle cx="625.90" cy="345.97" r="3.50" fill="#dd984d"/>
<circle cx="635.90" cy="345.97" r="3.50" fill="#dd984d"/>
<circle cx="645.90" cy="345.97" r="3.50" fill="#dd984d"/>
<circle cx="655.90" cy="345.97" r="3.50" fill="#dca64e"/>
<circle cx="665.90" cy="345.97" r="3.50" fill="#dd984d"/>
<circle cx="675.90" cy="345.97" r="3.50" fill="#dd984d"/>
<circle cx="215.90" cy="355.97" r="3.50" fill="#dd984d"/>
<circle cx="225.90" cy="355.97" r="3.50" fill="#dad150"/>
<circle cx="235.90" cy="355.97" r="3.50" fill="#dca64e"/>
<circle cx="245.90" cy="355.97" r="3.50" fill="#dcb44f"/>
<circle cx="255.90" cy="355.97" r="3.50" fill="#dad150"/>
<circle cx="265.90" cy="355.97" r="3.50" fill="#de894d"/>
<circle cx="275.90" cy="355.97" r="3.50" fill="#dd984d"/>
<circle cx="285.90" cy="355.97" r="3.50" fill="#dad150"/>
<circle cx="295.90" cy="355.97" r="3.50" fill="#dcb44f"/>
<circle cx="305.90" cy="355.97" r="3.50" fill="#df7a4c"/>
<circle cx="315.90" cy="355.97" r="3.50" fill="#df6b4b"/>
<circle cx="325.90" cy="355.97" r="3.50" fill="#dd984d"/>
<circle cx="335.90" cy="355.97" r="3.50" fill="#df6b4b"/>
<circle cx="345.90" cy="355.97" r="3.50" fill="#de894d"/>
<circle cx="355.90" cy="355.97" r="3.50" fill="#df6b4b"/>
<circle cx="365.90" cy="355.97" r="3.50" fill="#dca64e"/>
<circle cx="375.90" cy="355.97" r="3.50" fill="#dcb44f"/>
<circle cx="385.90" cy="355.97" r="3.50" fill="#dbc14f"/>
<circle cx="395.90" cy="355.97" r="3.50" fill="#df7a4c"/>
<circle cx="405.90" cy="355.97" r="3.50" fill="#dca64e"/>
<circle cx="415.90" cy="355.97" r="3.50" fill="#dca64e"/>
<circle cx="425.90" cy="355.97" r="3.50" fill="#df7a4c"/>
<circle cx="435.90" cy="355.97" r="3.50" fill="#dcb44f"/>
<circle cx="445.90" cy="355.97" r="3.50" fill="#dad150"/>
<circle cx="455.90" cy="355.97" r="3.50" fill="#df7a4c"/>
<circle cx="465.90" cy="355.97" r="3.50" fill="#dad150"/>
<circle cx="475.90" cy="355.97" r="3.50" fill="#de894d"/>
<circle cx="485.90" cy="355.97" r="3.50" fill="#dd984d"/>
<circle cx="495.90" cy="355.97" r="3.50" fill="#95d654"/>
<circle cx="505.90" cy="355.97" r="3.50" fill="#dcb44f"/>
<circle cx="515.90" cy="355.97" r="3.50" fill="#df7a4c"/>
<circle cx="525.90" cy="355.97" r="3.50" fill="#dd984d"/>
<circle cx="535.90" cy="355.97" r="3.50" fill="#dd984d"/>
<circle cx="545.90" cy="355.97" r="3.50" fill="#de894d"/>
<circle cx="555.90" cy="355.97" r="3.50" fill="#df7a4c"/>
<circle cx="565.90" cy="355.97" r="3.50" fill="#de894d"/>
<circle cx="575.90" cy="355.97" r="3.50" fill="#dca64e"/>
<circle cx="585.90" cy="355.97" r="3.50" fill="#e05e4a"/>
<circle cx="595.90" cy="355.97" r="3.50" fill="#dd984d"/>
<circle cx="605.90" cy="355.97" r="3.50" fill="#dd984d"/>
<circle cx="615.90" cy="355.97" r="3.50" fill="#e05e4a"/>
<circle cx="625.90" cy="355.97" r="3.50" fill="#de894d"/>
<circle cx="635.90" cy="355.97" r="3.50" fill="#dca64e"/>
<circle cx="645.90" cy="355.97" r="3.50" fill="#dd984d"/>
<circle cx="655.90" cy="355.97" r="3.50" fill="#df6b4b"/>
<circle cx="665.90" cy="355.97" r="3.50" fill="#d0d951"/>
<circle cx="675.90" cy="355.97" r="3.50" fill="#dcb44f"/>
<circle cx="215.90" cy="365.97" r="3.50" fill="#dad150"/>
<circle cx="225.90" cy="365.97" r="3.50" fill="#df6b4b"/>
<circle cx="235.90" cy="365.97" r="3.50" fill="#de894d"/>
<circle cx="245.90" cy="365.97" r="3.50" fill="#e05e4a"/>
<circle cx="255.90" cy="365.97" r="3.50" fill="#dca64e"/>
<circle cx="265.90" cy="365.97" r="3.50" fill="#de894d"/>
<circle cx="275.90" cy="365.97" r="3.50" fill="#df7a4c"/>
<circle cx="285.90" cy="365.97" r="3.50" fill="#dd984d"/>
<circle cx="295.90" cy="365.97" r="3.50" fill="#dbc14f"/>
<circle cx="305.90" cy="365.97" r="3.50" fill="#dcb44f"/>
<circle cx="315.90" cy="365.97" r="3.50" fill="#de894d"/>
<circle cx="325.90" cy="365.97" r="3.50" fill="#df7a4c"/>
<circle cx="335.90" cy="365.97" r="3.50" fill="#dbc14f"/>
<circle cx="345.90" cy="365.97" r="3.50" fill="#dd984d"/>
<circle cx="355.90" cy="365.97" r="3.50" fill="#dca64e"/>
<circle cx="365.90" cy="365.97" r="3.50" fill="#df6b4b"/>
<circle cx="375.90" cy="365.97" r="3.50" fill="#df6b4b"/>
<circle cx="385.90" cy="365.97" r="3.50" fill="#dca64e"/>
<circle cx="395.90" cy="365.97" r="3.50" fill="#dd984d"/>
<circle cx="405.90" cy="365.97" r="3.50" fill="#df6b4b"/>
<circle cx="415.90" cy="365.97" r="3.50" fill="#dad150"/>
<circle cx="425.90" cy="365.97" r="3.50" fill="#dca64e"/>
<circle cx="435.90" cy="365.97" r="3.50" fill="#dcb44f"/>
<circle cx="445.90" cy="365.97" r="3.50" fill="#df6b4b"/>
<circle cx="455.90" cy="365.97" r="3.50" fill="#dcb44f"/>
<circle cx="465.90" cy="365.97" r="3.50" fill="#df6b4b"/>
<circle cx="475.90" cy="365.97" r="3.50" fill="#dcb44f"/>
<circle cx="485.90" cy="365.97" r="3.50" fill="#dd984d"/>
<circle cx="495.90" cy="365.97" r="3.50" fill="#de894d"/>
<circle cx="505.90" cy="365.97" r="3.50" fill="#dd984d"/>
<circle cx="515.90" cy="365.97" r="3.50" fill="#dbc14f"/>
<circle cx="525.90" cy="365.97" r="3.50" fill="#de894d"/>
<circle cx="535.90" cy="365.97" r="3.50" fill="#df7a4c"/>
<circle cx="545.90" cy="365.97" r="3.50" fill="#dd984d"/>
<circle cx="555.90" cy="365.97" r="3.50" fill="#de894d"/>
<circle cx="565.90" cy="365.97" r="3.50" fill="#df6b4b"/>
<circle cx="575.90" cy="365.97" r="3.50" fill="#df7a4c"/>
<circle cx="585.90" cy="365.97" r="3.50" fill="#e05e4a"/>
<circle cx="595.90" cy="365.97" r="3.50" fill="#df7a4c"/>
<circle cx="605.90" cy="365.97" r="3.50" fill="#de894d"/>
<circle cx="615.90" cy="365.97" r="3.50" fill="#de894d"/>
<circle cx="625.90" cy="365.97" r="3.50" fill="#dca64e"/>
<circle cx="635.90" cy="365.97" r="3.50" fill="#de894d"/>
<circle cx="645.90" cy="365.97" r="3.50" fill="#dd984d"/>
<circle cx="655.90" cy="365.97" r="3.50" fill="#df7a4c"/>
<circle cx="665.90" cy="365.97" r="3.50" fill="#de894d"/>
<circle cx="675.90" cy="365.97" r="3.50" fill="#e05e4a"/>
<circle cx="715.70" cy="285.55" r="12.25" fill="#68d357"/>
<circle cx="742.85" cy="285.55" r="11.90" fill="#64d357"/>
<circle cx="770.40" cy="285.55" r="12.65" fill="#60d358"/>
<circle cx="796.56" cy="285.55" r="10.51" fill="#64d357"/>
<circle cx="819.98" cy="285.55" r="9.91" fill="#78d456"/>
<circle cx="843.10" cy="285.55" r="10.21" fill="#dad551"/>
<circle cx="864.72" cy="285.55" r="8.42" fill="#84d555"/>
<circle cx="885.80" cy="285.55" r="9.66" fill="#dad551"/>
<circle cx="908.77" cy="285.55" r="10.31" fill="#78d456"/>
<circle cx="931.94" cy="285.55" r="9.86" fill="#a2d754"/>
<circle cx="953.51" cy="285.55" r="8.71" fill="#70d457"/>
<circle cx="976.78" cy="285.55" r="11.55" fill="#5cd358"/>
<circle cx="998.90" cy="285.55" r="7.57" fill="#60d358"/>
<circle cx="1017.59" cy="285.55" r="8.12" fill="#c2d852"/>
<circle cx="1036.92" cy="285.55" r="8.22" fill="#91d655"/>
<circle cx="1055.06" cy="285.55" r="6.92" fill="#68d357"/>
<circle cx="1071.11" cy="285.55" r="6.13" fill="#80d556"/>
<circle cx="1085.71" cy="285.55" r="5.48" fill="#78d456"/>
<circle cx="1101.76" cy="285.55" r="7.57" fill="#70d457"/>
<circle cx="1119.50" cy="285.55" r="7.17" fill="#80d556"/>
<circle cx="1137.24" cy="285.55" r="7.57" fill="#88d555"/>
<circle cx="1155.38" cy="285.55" r="7.57" fill="#6cd457"/>
<circle cx="708.14" cy="308.54" r="7.29" fill="#88d555"/>
<circle cx="725.58" cy="308.54" r="7.14" fill="#64d357"/>
<circle cx="742.52" cy="308.54" r="6.80" fill="#a7d753"/>
<circle cx="759.66" cy="308.54" r="7.34" fill="#68d357"/>
<circle cx="774.22" cy="308.54" r="4.22" fill="#dad150"/>
<circle cx="788.38" cy="308.54" r="6.95" fill="#88d555"/>
<circle cx="805.27" cy="308.54" r="6.95" fill="#68d357"/>
<circle cx="822.16" cy="308.54" r="6.95" fill="#60d358"/>
<circle cx="839.05" cy="308.54" r="6.95" fill="#6cd457"/>
<circle cx="853.21" cy="308.54" r="4.22" fill="#a2d754"/>
<circle cx="866.63" cy="308.54" r="6.20" fill="#78d456"/>
<circle cx="881.09" cy="308.54" r="5.26" fill="#64d357"/>
<circle cx="894.81" cy="308.54" r="5.46" fill="#dada51"/>
<circle cx="909.37" cy="308.54" r="6.10" fill="#70d457"/>
<circle cx="922.69" cy="308.54" r="4.22" fill="#9ed654"/>
<circle cx="936.05" cy="308.54" r="6.15" fill="#68d357"/>
<circle cx="949.42" cy="308.54" r="4.22" fill="#dad551"/>
<circle cx="962.94" cy="308.54" r="6.30" fill="#b9d852"/>
<circle cx="975.71" cy="308.54" r="3.47" fill="#abd753"/>
<circle cx="987.64" cy="308.54" r="5.46" fill="#6cd457"/>
<circle cx="1001.36" cy="308.54" r="5.26" fill="#80d556"/>
<circle cx="1015.07" cy="308.54" r="5.46" fill="#9ad654"/>
<circle cx="1028.79" cy="308.54" r="5.26" fill="#b0d753"/>
<circle cx="1042.51" cy="308.54" r="5.46" fill="#88d555"/>
<circle cx="1056.22" cy="308.54" r="5.26" fill="#78d456"/>
<circle cx="1069.94" cy="308.54" r="5.46" fill="#95d654"/>
<circle cx="1082.61" cy="308.54" r="4.22" fill="#68d357"/>
<circle cx="1095.28" cy="308.54" r="5.46" fill="#74d456"/>
<circle cx="1109.00" cy="308.54" r="5.26" fill="#78d456"/>
<circle cx="1122.72" cy="308.54" r="5.46" fill="#b4d853"/>
<circle cx="1136.43" cy="308.54" r="5.26" fill="#84d555"/>
<circle cx="1150.15" cy="308.54" r="5.46" fill="#78d456"/>
<circle cx="1162.08" cy="308.54" r="3.47" fill="#dad551"/>
<circle cx="704.58" cy="324.26" r="4.33" fill="#dad551"/>
<circle cx="716.23" cy="324.26" r="4.33" fill="#88d555"/>
<circle cx="727.07" cy="324.26" r="3.50" fill="#70d457"/>
<circle cx="738.95" cy="324.26" r="5.38" fill="#8dd555"/>
<circle cx="750.83" cy="324.26" r="3.50" fill="#68d357"/>
<circle cx="761.66" cy="324.26" r="4.33" fill="#cbd952"/>
<circle cx="773.31" cy="324.26" r="4.33" fill="#a2d754"/>
<circle cx="784.97" cy="324.26" r="4.33" fill="#abd753"/>
<circle cx="797.68" cy="324.26" r="5.38" fill="#60d358"/>
<circle cx="810.39" cy="324.26" r="4.33" fill="#91d655"/>
<circle cx="822.04" cy="324.26" r="4.33" fill="#78d456"/>
<circle cx="833.70" cy="324.26" r="4.33" fill="#d5d951"/>
<circle cx="844.53" cy="324.26" r="3.50" fill="#b0d753"/>
<circle cx="855.36" cy="324.26" r="4.33" fill="#78d456"/>
<circle cx="866.19" cy="324.26" r="3.50" fill="#dad551"/>
<circle cx="877.02" cy="324.26" r="4.33" fill="#64d357"/>
<circle cx="888.68" cy="324.26" r="4.33" fill="#88d555"/>
<circle cx="900.33" cy="324.26" r="4.33" fill="#80d556"/>
<circle cx="911.99" cy="324.26" r="4.33" fill="#78d456"/>
<circle cx="922.82" cy="324.26" r="3.50" fill="#dad551"/>
<circle cx="933.65" cy="324.26" r="4.33" fill="#bdd852"/>
<circle cx="945.31" cy="324.26" r="4.33" fill="#80d556"/>
<circle cx="956.96" cy="324.26" r="4.33" fill="#91d655"/>
<circle cx="968.62" cy="324.26" r="4.33" fill="#9ad654"/>
<circle cx="980.28" cy="324.26" r="4.33" fill="#a2d754"/>
<circle cx="991.93" cy="324.26" r="4.33" fill="#7cd456"/>
<circle cx="1002.76" cy="324.26" r="3.50" fill="#dad551"/>
<circle cx="1013.59" cy="324.26" r="4.33" fill="#68d357"/>
<circle cx="1025.25" cy="324.26" r="4.33" fill="#70d457"/>
<circle cx="1036.91" cy="324.26" r="4.33" fill="#74d456"/>
<circle cx="1048.56" cy="324.26" r="4.33" fill="#8dd555"/>
<circle cx="1060.22" cy="324.26" r="4.33" fill="#70d457"/>
<circle cx="1071.87" cy="324.26" r="4.33" fill="#60d358"/>
<circle cx="1083.53" cy="324.26" r="4.33" fill="#88d555"/>
<circle cx="1095.19" cy="324.26" r="4.33" fill="#74d456"/>
<circle cx="1106.02" cy="324.26" r="3.50" fill="#cbd952"/>
<circle cx="1116.85" cy="324.26" r="4.33" fill="#80d556"/>
<circle cx="1128.50" cy="324.26" r="4.33" fill="#70d457"/>
<circle cx="1140.16" cy="324.26" r="4.33" fill="#6cd457"/>
<circle cx="1150.99" cy="324.26" r="3.50" fill="#91d655"/>
<circle cx="1161.82" cy="324.26" r="4.33" fill="#c2d852"/>
<circle cx="705.65" cy="336.99" r="3.50" fill="#95d654"/>
<circle cx="716.50" cy="336.99" r="4.35" fill="#91d655"/>
<circle cx="727.35" cy="336.99" r="3.50" fill="#dad551"/>
<circle cx="737.35" cy="336.99" r="3.50" fill="#dad150"/>
<circle cx="747.35" cy="336.99" r="3.50" fill="#dad150"/>
<circle cx="757.35" cy="336.99" r="3.50" fill="#80d556"/>
<circle cx="767.35" cy="336.99" r="3.50" fill="#95d654"/>
<circle cx="777.35" cy="336.99" r="3.50" fill="#c2d852"/>
<circle cx="787.35" cy="336.99" r="3.50" fill="#6cd457"/>
<circle cx="797.35" cy="336.99" r="3.50" fill="#9ed654"/>
<circle cx="808.20" cy="336.99" r="4.35" fill="#60d358"/>
<circle cx="819.05" cy="336.99" r="3.50" fill="#a7d753"/>
<circle cx="829.90" cy="336.99" r="4.35" fill="#84d555"/>
<circle cx="840.75" cy="336.99" r="3.50" fill="#95d654"/>
<circle cx="850.75" cy="336.99" r="3.50" fill="#88d555"/>
<circle cx="860.75" cy="336.99" r="3.50" fill="#c7d952"/>
<circle cx="870.75" cy="336.99" r="3.50" fill="#74d456"/>
<circle cx="880.75" cy="336.99" r="3.50" fill="#91d655"/>
<circle cx="890.75" cy="336.99" r="3.50" fill="#9ed654"/>
<circle cx="900.75" cy="336.99" r="3.50" fill="#95d654"/>
<circle cx="910.75" cy="336.99" r="3.50" fill="#dad551"/>
<circle cx="920.75" cy="336.99" r="3.50" fill="#dad150"/>
<circle cx="930.75" cy="336.99" r="3.50" fill="#6cd457"/>
<circle cx="940.75" cy="336.99" r="3.50" fill="#78d456"/>
<circle cx="950.75" cy="336.99" r="3.50" fill="#60d358"/>
<circle cx="960.75" cy="336.99" r="3.50" fill="#91d655"/>
<circle cx="970.75" cy="336.99" r="3.50" fill="#dad551"/>
<circle cx="980.75" cy="336.99" r="3.50" fill="#9ed654"/>
<circle cx="990.75" cy="336.99" r="3.50" fill="#84d555"/>
<circle cx="1000.75" cy="336.99" r="3.50" fill="#9ad654"/>
<circle cx="1010.75" cy="336.99" r="3.50" fill="#80d556"/>
<circle cx="1020.75" cy="336.99" r="3.50" fill="#d0d951"/>
<circle cx="1030.75" cy="336.99" r="3.50" fill="#78d456"/>
<circle cx="1040.75" cy="336.99" r="3.50" fill="#a2d754"/>
<circle cx="1050.75" cy="336.99" r="3.50" fill="#d0d951"/>
<circle cx="1060.75" cy="336.99" r="3.50" fill="#b4d853"/>
<circle cx="1070.75" cy="336.99" r="3.50" fill="#6cd457"/>
<circle cx="1080.75" cy="336.99" r="3.50" fill="#dacc50"/>
<circle cx="1090.75" cy="336.99" r="3.50" fill="#b4d853"/>
<circle cx="1100.75" cy="336.99" r="3.50" fill="#c2d852"/>
<circle cx="1110.75" cy="336.99" r="3.50" fill="#5cd358"/>
<circle cx="1120.75" cy="336.99" r="3.50" fill="#c7d952"/>
<circle cx="1130.75" cy="336.99" r="3.50" fill="#dad150"/>
<circle cx="1140.75" cy="336.99" r="3.50" fill="#dad150"/>
<circle cx="1150.75" cy="336.99" r="3.50" fill="#dad551"/>
<circle cx="1160.75" cy="336.99" r="3.50" fill="#80d556"/>
<circle cx="703.20" cy="347.84" r="3.50" fill="#d0d951"/>
<circle cx="713.20" cy="347.84" r="3.50" fill="#dad350"/>
<circle cx="723.20" cy="347.84" r="3.50" fill="#93d655"/>
<circle cx="733.20" cy="347.84" r="3.50" fill="#a2d754"/>
<circle cx="743.20" cy="347.84" r="3.50" fill="#d0d951"/>
<circle cx="753.20" cy="347.84" r="3.50" fill="#b2d853"/>
<circle cx="763.20" cy="347.84" r="3.50" fill="#6ad357"/>
<circle cx="773.20" cy="347.84" r="3.50" fill="#dada51"/>
<circle cx="783.20" cy="347.84" r="3.50" fill="#84d555"/>
<circle cx="793.20" cy="347.84" r="3.50" fill="#b2d853"/>
<circle cx="803.20" cy="347.84" r="3.50" fill="#a2d754"/>
<circle cx="813.20" cy="347.84" r="3.50" fill="#84d555"/>
<circle cx="823.20" cy="347.84" r="3.50" fill="#b2d853"/>
<circle cx="833.20" cy="347.84" r="3.50" fill="#a2d754"/>
<circle cx="843.20" cy="347.84" r="3.50" fill="#93d655"/>
<circle cx="853.20" cy="347.84" r="3.50" fill="#60d358"/>
<circle cx="863.20" cy="347.84" r="3.50" fill="#c2d852"/>
<circle cx="873.20" cy="347.84" r="3.50" fill="#84d555"/>
<circle cx="883.20" cy="347.84" r="3.50" fill="#93d655"/>
<circle cx="893.20" cy="347.84" r="3.50" fill="#93d655"/>
<circle cx="903.20" cy="347.84" r="3.50" fill="#b2d853"/>
<circle cx="913.20" cy="347.84" r="3.50" fill="#c2d852"/>
<circle cx="923.20" cy="347.84" r="3.50" fill="#dad350"/>
<circle cx="933.20" cy="347.84" r="3.50" fill="#dada51"/>
<circle cx="943.20" cy="347.84" r="3.50" fill="#dada51"/>
<circle cx="953.20" cy="347.84" r="3.50" fill="#84d555"/>
<circle cx="963.20" cy="347.84" r="3.50" fill="#d0d951"/>
<circle cx="973.20" cy="347.84" r="3.50" fill="#dada51"/>
<circle cx="983.20" cy="347.84" r="3.50" fill="#dada51"/>
<circle cx="993.20" cy="347.84" r="3.50" fill="#76d456"/>
<circle cx="1003.20" cy="347.84" r="3.50" fill="#76d456"/>
<circle cx="1013.20" cy="347.84" r="3.50" fill="#93d655"/>
<circle cx="1023.20" cy="347.84" r="3.50" fill="#c2d852"/>
<circle cx="1033.20" cy="347.84" r="3.50" fill="#d0d951"/>
<circle cx="1043.20" cy="347.84" r="3.50" fill="#c2d852"/>
<circle cx="1053.20" cy="347.84" r="3.50" fill="#b2d853"/>
<circle cx="1063.20" cy="347.84" r="3.50" fill="#dada51"/>
<circle cx="1073.20" cy="347.84" r="3.50" fill="#b2d853"/>
<circle cx="1083.20" cy="347.84" r="3.50" fill="#d0d951"/>
<circle cx="1093.20" cy="347.84" r="3.50" fill="#6ad357"/>
<circle cx="1103.20" cy="347.84" r="3.50" fill="#60d358"/>
<circle cx="1113.20" cy="347.84" r="3.50" fill="#a2d754"/>
<circle cx="1123.20" cy="347.84" r="3.50" fill="#d0d951"/>
<circle cx="1133.20" cy="347.84" r="3.50" fill="#60d358"/>
<circle cx="1143.20" cy="347.84" r="3.50" fill="#c2d852"/>
<circle cx="1153.20" cy="347.84" r="3.50" fill="#c2d852"/>
<circle cx="1163.20" cy="347.84" r="3.50" fill="#dad350"/>
<circle cx="703.20" cy="357.84" r="3.50" fill="#b3d853"/>
<circle cx="713.20" cy="357.84" r="3.50" fill="#b3d853"/>
<circle cx="723.20" cy="357.84" r="3.50" fill="#a3d754"/>
<circle cx="733.20" cy="357.84" r="3.50" fill="#d1d951"/>
<circle cx="743.20" cy="357.84" r="3.50" fill="#a3d754"/>
<circle cx="753.20" cy="357.84" r="3.50" fill="#dad350"/>
<circle cx="763.20" cy="357.84" r="3.50" fill="#d1d951"/>
<circle cx="773.20" cy="357.84" r="3.50" fill="#dad951"/>
<circle cx="783.20" cy="357.84" r="3.50" fill="#b3d853"/>
<circle cx="793.20" cy="357.84" r="3.50" fill="#dad350"/>
<circle cx="803.20" cy="357.84" r="3.50" fill="#dad350"/>
<circle cx="813.20" cy="357.84" r="3.50" fill="#c3d852"/>
<circle cx="823.20" cy="357.84" r="3.50" fill="#d1d951"/>
<circle cx="833.20" cy="357.84" r="3.50" fill="#a3d754"/>
<circle cx="843.20" cy="357.84" r="3.50" fill="#a3d754"/>
<circle cx="853.20" cy="357.84" r="3.50" fill="#85d555"/>
<circle cx="863.20" cy="357.84" r="3.50" fill="#94d654"/>
<circle cx="873.20" cy="357.84" r="3.50" fill="#94d654"/>
<circle cx="883.20" cy="357.84" r="3.50" fill="#77d456"/>
<circle cx="893.20" cy="357.84" r="3.50" fill="#b3d853"/>
<circle cx="903.20" cy="357.84" r="3.50" fill="#c3d852"/>
<circle cx="913.20" cy="357.84" r="3.50" fill="#60d358"/>
<circle cx="923.20" cy="357.84" r="3.50" fill="#dad951"/>
<circle cx="933.20" cy="357.84" r="3.50" fill="#94d654"/>
<circle cx="943.20" cy="357.84" r="3.50" fill="#94d654"/>
<circle cx="953.20" cy="357.84" r="3.50" fill="#dad350"/>
<circle cx="963.20" cy="357.84" r="3.50" fill="#85d555"/>
<circle cx="973.20" cy="357.84" r="3.50" fill="#77d456"/>
<circle cx="983.20" cy="357.84" r="3.50" fill="#94d654"/>
<circle cx="993.20" cy="357.84" r="3.50" fill="#94d654"/>
<circle cx="1003.20" cy="357.84" r="3.50" fill="#85d555"/>
<circle cx="1013.20" cy="357.84" r="3.50" fill="#dad951"/>
<circle cx="1023.20" cy="357.84" r="3.50" fill="#a3d754"/>
<circle cx="1033.20" cy="357.84" r="3.50" fill="#a3d754"/>
<circle cx="1043.20" cy="357.84" r="3.50" fill="#85d555"/>
<circle cx="1053.20" cy="357.84" r="3.50" fill="#85d555"/>
<circle cx="1063.20" cy="357.84" r="3.50" fill="#85d555"/>
<circle cx="1073.20" cy="357.84" r="3.50" fill="#a3d754"/>
<circle cx="1083.20" cy="357.84" r="3.50" fill="#77d456"/>
<circle cx="1093.20" cy="357.84" r="3.50" fill="#94d654"/>
<circle cx="1103.20" cy="357.84" r="3.50" fill="#94d654"/>
<circle cx="1113.20" cy="357.84" r="3.50" fill="#d1d951"/>
<circle cx="1123.20" cy="357.84" r="3.50" fill="#dad350"/>
<circle cx="1133.20" cy="357.84" r="3.50" fill="#dad951"/>
<circle cx="1143.20" cy="357.84" r="3.50" fill="#c3d852"/>
<circle cx="1153.20" cy="357.84" r="3.50" fill="#dad951"/>
<circle cx="1163.20" cy="357.84" r="3.50" fill="#85d555"/>
<circle cx="703.20" cy="367.84" r="3.50" fill="#a4d754"/>
<circle cx="713.20" cy="367.84" r="3.50" fill="#a4d754"/>
<circle cx="723.20" cy="367.84" r="3.50" fill="#a4d754"/>
<circle cx="733.20" cy="367.84" r="3.50" fill="#95d654"/>
<circle cx="743.20" cy="367.84" r="3.50" fill="#b4d853"/>
<circle cx="753.20" cy="367.84" r="3.50" fill="#dad250"/>
<circle cx="763.20" cy="367.84" r="3.50" fill="#86d555"/>
<circle cx="773.20" cy="367.84" r="3.50" fill="#95d654"/>
<circle cx="783.20" cy="367.84" r="3.50" fill="#b4d853"/>
<circle cx="793.20" cy="367.84" r="3.50" fill="#a4d754"/>
<circle cx="803.20" cy="367.84" r="3.50" fill="#95d654"/>
<circle cx="813.20" cy="367.84" r="3.50" fill="#dad250"/>
<circle cx="823.20" cy="367.84" r="3.50" fill="#95d654"/>
<circle cx="833.20" cy="367.84" r="3.50" fill="#d1d951"/>
<circle cx="843.20" cy="367.84" r="3.50" fill="#dad250"/>
<circle cx="853.20" cy="367.84" r="3.50" fill="#d1d951"/>
<circle cx="863.20" cy="367.84" r="3.50" fill="#95d654"/>
<circle cx="873.20" cy="367.84" r="3.50" fill="#d1d951"/>
<circle cx="883.20" cy="367.84" r="3.50" fill="#95d654"/>
<circle cx="893.20" cy="367.84" r="3.50" fill="#61d358"/>
<circle cx="903.20" cy="367.84" r="3.50" fill="#b4d853"/>
<circle cx="913.20" cy="367.84" r="3.50" fill="#c4d852"/>
<circle cx="923.20" cy="367.84" r="3.50" fill="#b4d853"/>
<circle cx="933.20" cy="367.84" r="3.50" fill="#95d654"/>
<circle cx="943.20" cy="367.84" r="3.50" fill="#86d555"/>
<circle cx="953.20" cy="367.84" r="3.50" fill="#a4d754"/>
<circle cx="963.20" cy="367.84" r="3.50" fill="#95d654"/>
<circle cx="973.20" cy="367.84" r="3.50" fill="#dad250"/>
<circle cx="983.20" cy="367.84" r="3.50" fill="#dad951"/>
<circle cx="993.20" cy="367.84" r="3.50" fill="#d1d951"/>
<circle cx="1003.20" cy="367.84" r="3.50" fill="#95d654"/>
<circle cx="1013.20" cy="367.84" r="3.50" fill="#c4d852"/>
<circle cx="1023.20" cy="367.84" r="3.50" fill="#a4d754"/>
<circle cx="1033.20" cy="367.84" r="3.50" fill="#dad250"/>
<circle cx="1043.20" cy="367.84" r="3.50" fill="#dad250"/>
<circle cx="1053.20" cy="367.84" r="3.50" fill="#d1d951"/>
<circle cx="1063.20" cy="367.84" r="3.50" fill="#95d654"/>
<circle cx="1073.20" cy="367.84" r="3.50" fill="#95d654"/>
<circle cx="1083.20" cy="367.84" r="3.50" fill="#95d654"/>
<circle cx="1093.20" cy="367.84" r="3.50" fill="#d1d951"/>
<circle cx="1103.20" cy="367.84" r="3.50" fill="#a4d754"/>
<circle cx="1113.20" cy="367.84" r="3.50" fill="#b4d853"/>
<circle cx="1123.20" cy="367.84" r="3.50" fill="#b4d853"/>
<circle cx="1133.20" cy="367.84" r="3.50" fill="#dad951"/>
<circle cx="1143.20" cy="367.84" r="3.50" fill="#77d456"/>
<circle cx="1153.20" cy="367.84" r="3.50" fill="#d1d951"/>
<circle cx="1163.20" cy="367.84" r="3.50" fill="#61d358"/>
<circle cx="703.20" cy="377.84" r="3.50" fill="#6cd457"/>
<circle cx="713.20" cy="377.84" r="3.50" fill="#dad250"/>
<circle cx="723.20" cy="377.84" r="3.50" fill="#b5d853"/>
<circle cx="733.20" cy="377.84" r="3.50" fill="#87d555"/>
<circle cx="743.20" cy="377.84" r="3.50" fill="#61d357"/>
<circle cx="753.20" cy="377.84" r="3.50" fill="#b5d853"/>
<circle cx="763.20" cy="377.84" r="3.50" fill="#d2d951"/>
<circle cx="773.20" cy="377.84" r="3.50" fill="#d2d951"/>
<circle cx="783.20" cy="377.84" r="3.50" fill="#6cd457"/>
<circle cx="793.20" cy="377.84" r="3.50" fill="#d2d951"/>
<circle cx="803.20" cy="377.84" r="3.50" fill="#a5d754"/>
<circle cx="813.20" cy="377.84" r="3.50" fill="#dad951"/>
<circle cx="823.20" cy="377.84" r="3.50" fill="#b5d853"/>
<circle cx="833.20" cy="377.84" r="3.50" fill="#6cd457"/>
<circle cx="843.20" cy="377.84" r="3.50" fill="#dad951"/>
<circle cx="853.20" cy="377.84" r="3.50" fill="#87d555"/>
<circle cx="863.20" cy="377.84" r="3.50" fill="#b5d853"/>
<circle cx="873.20" cy="377.84" r="3.50" fill="#78d456"/>
<circle cx="883.20" cy="377.84" r="3.50" fill="#96d654"/>
<circle cx="893.20" cy="377.84" r="3.50" fill="#d2d951"/>
<circle cx="903.20" cy="377.84" r="3.50" fill="#78d456"/>
<circle cx="913.20" cy="377.84" r="3.50" fill="#b5d853"/>
<circle cx="923.20" cy="377.84" r="3.50" fill="#dad250"/>
<circle cx="933.20" cy="377.84" r="3.50" fill="#dad250"/>
<circle cx="943.20" cy="377.84" r="3.50" fill="#b5d853"/>
<circle cx="953.20" cy="377.84" r="3.50" fill="#b5d853"/>
<circle cx="963.20" cy="377.84" r="3.50" fill="#d2d951"/>
<circle cx="973.20" cy="377.84" r="3.50" fill="#dad951"/>
<circle cx="983.20" cy="377.84" r="3.50" fill="#c4d852"/>
<circle cx="993.20" cy="377.84" r="3.50" fill="#c4d852"/>
<circle cx="1003.20" cy="377.84" r="3.50" fill="#87d555"/>
<circle cx="1013.20" cy="377.84" r="3.50" fill="#dad250"/>
<circle cx="1023.20" cy="377.84" r="3.50" fill="#96d654"/>
<circle cx="1033.20" cy="377.84" r="3.50" fill="#87d555"/>
<circle cx="1043.20" cy="377.84" r="3.50" fill="#dad951"/>
<circle cx="1053.20" cy="377.84" r="3.50" fill="#6cd457"/>
<circle cx="1063.20" cy="377.84" r="3.50" fill="#96d654"/>
<circle cx="1073.20" cy="377.84" r="3.50" fill="#78d456"/>
<circle cx="1083.20" cy="377.84" r="3.50" fill="#d2d951"/>
<circle cx="1093.20" cy="377.84" r="3.50" fill="#c4d852"/>
<circle cx="1103.20" cy="377.84" r="3.50" fill="#c4d852"/>
<circle cx="1113.20" cy="377.84" r="3.50" fill="#dbbf4f"/>
<circle cx="1123.20" cy="377.84" r="3.50" fill="#a5d754"/>
<circle cx="1133.20" cy="377.84" r="3.50" fill="#c4d852"/>
<circle cx="1143.20" cy="377.84" r="3.50" fill="#b5d853"/>
<circle cx="1153.20" cy="377.84" r="3.50" fill="#d2d951"/>
<circle cx="1163.20" cy="377.84" r="3.50" fill="#dad250"/>
<circle cx="703.20" cy="387.84" r="3.50" fill="#dad851"/>
<circle cx="713.20" cy="387.84" r="3.50" fill="#88d555"/>
<circle cx="723.20" cy="387.84" r="3.50" fill="#d2d951"/>
<circle cx="733.20" cy="387.84" r="3.50" fill="#6cd457"/>
<circle cx="743.20" cy="387.84" r="3.50" fill="#d2d951"/>
<circle cx="753.20" cy="387.84" r="3.50" fill="#d2d951"/>
<circle cx="763.20" cy="387.84" r="3.50" fill="#b6d853"/>
<circle cx="773.20" cy="387.84" r="3.50" fill="#dad851"/>
<circle cx="783.20" cy="387.84" r="3.50" fill="#c5d952"/>
<circle cx="793.20" cy="387.84" r="3.50" fill="#6cd457"/>
<circle cx="803.20" cy="387.84" r="3.50" fill="#79d456"/>
<circle cx="813.20" cy="387.84" r="3.50" fill="#88d555"/>
<circle cx="823.20" cy="387.84" r="3.50" fill="#a6d753"/>
<circle cx="833.20" cy="387.84" r="3.50" fill="#79d456"/>
<circle cx="843.20" cy="387.84" r="3.50" fill="#6cd457"/>
<circle cx="853.20" cy="387.84" r="3.50" fill="#a6d753"/>
<circle cx="863.20" cy="387.84" r="3.50" fill="#97d654"/>
<circle cx="873.20" cy="387.84" r="3.50" fill="#dad250"/>
<circle cx="883.20" cy="387.84" r="3.50" fill="#97d654"/>
<circle cx="893.20" cy="387.84" r="3.50" fill="#b6d853"/>
<circle cx="903.20" cy="387.84" r="3.50" fill="#97d654"/>
<circle cx="913.20" cy="387.84" r="3.50" fill="#a6d753"/>
<circle cx="923.20" cy="387.84" r="3.50" fill="#d2d951"/>
<circle cx="933.20" cy="387.84" r="3.50" fill="#dad250"/>
<circle cx="943.20" cy="387.84" r="3.50" fill="#6cd457"/>
<circle cx="953.20" cy="387.84" r="3.50" fill="#dad851"/>
<circle cx="963.20" cy="387.84" r="3.50" fill="#b6d853"/>
<circle cx="973.20" cy="387.84" r="3.50" fill="#c5d952"/>
<circle cx="983.20" cy="387.84" r="3.50" fill="#d2d951"/>
<circle cx="993.20" cy="387.84" r="3.50" fill="#97d654"/>
<circle cx="1003.20" cy="387.84" r="3.50" fill="#61d357"/>
<circle cx="1013.20" cy="387.84" r="3.50" fill="#d2d951"/>
<circle cx="1023.20" cy="387.84" r="3.50" fill="#a6d753"/>
<circle cx="1033.20" cy="387.84" r="3.50" fill="#d2d951"/>
<circle cx="1043.20" cy="387.84" r="3.50" fill="#a6d753"/>
<circle cx="1053.20" cy="387.84" r="3.50" fill="#c5d952"/>
<circle cx="1063.20" cy="387.84" r="3.50" fill="#dad851"/>
<circle cx="1073.20" cy="387.84" r="3.50" fill="#dad851"/>
<circle cx="1083.20" cy="387.84" r="3.50" fill="#dad851"/>
<circle cx="1093.20" cy="387.84" r="3.50" fill="#79d456"/>
<circle cx="1103.20" cy="387.84" r="3.50" fill="#b6d853"/>
<circle cx="1113.20" cy="387.84" r="3.50" fill="#d2d951"/>
<circle cx="1123.20" cy="387.84" r="3.50" fill="#79d456"/>
<circle cx="1133.20" cy="387.84" r="3.50" fill="#dbbe4f"/>
<circle cx="1143.20" cy="387.84" r="3.50" fill="#b6d853"/>
<circle cx="1153.20" cy="387.84" r="3.50" fill="#dad851"/>
<circle cx="1163.20" cy="387.84" r="3.50" fill="#dad851"/>
<circle cx="703.20" cy="397.84" r="3.50" fill="#dad250"/>
<circle cx="713.20" cy="397.84" r="3.50" fill="#d3d951"/>
<circle cx="723.20" cy="397.84" r="3.50" fill="#dad250"/>
<circle cx="733.20" cy="397.84" r="3.50" fill="#d3d951"/>
<circle cx="743.20" cy="397.84" r="3.50" fill="#d3d951"/>
<circle cx="753.20" cy="397.84" r="3.50" fill="#a7d753"/>
<circle cx="763.20" cy="397.84" r="3.50" fill="#7ad456"/>
<circle cx="773.20" cy="397.84" r="3.50" fill="#98d654"/>
<circle cx="783.20" cy="397.84" r="3.50" fill="#c6d952"/>
<circle cx="793.20" cy="397.84" r="3.50" fill="#c6d952"/>
<circle cx="803.20" cy="397.84" r="3.50" fill="#b7d853"/>
<circle cx="813.20" cy="397.84" r="3.50" fill="#c6d952"/>
<circle cx="823.20" cy="397.84" r="3.50" fill="#d3d951"/>
<circle cx="833.20" cy="397.84" r="3.50" fill="#dad250"/>
<circle cx="843.20" cy="397.84" r="3.50" fill="#d3d951"/>
<circle cx="853.20" cy="397.84" r="3.50" fill="#6dd457"/>
<circle cx="863.20" cy="397.84" r="3.50" fill="#dad851"/>
<circle cx="873.20" cy="397.84" r="3.50" fill="#b7d853"/>
<circle cx="883.20" cy="397.84" r="3.50" fill="#a7d753"/>
<circle cx="893.20" cy="397.84" r="3.50" fill="#7ad456"/>
<circle cx="903.20" cy="397.84" r="3.50" fill="#dad851"/>
<circle cx="913.20" cy="397.84" r="3.50" fill="#d3d951"/>
<circle cx="923.20" cy="397.84" r="3.50" fill="#d3d951"/>
<circle cx="933.20" cy="397.84" r="3.50" fill="#c6d952"/>
<circle cx="943.20" cy="397.84" r="3.50" fill="#c6d952"/>
<circle cx="953.20" cy="397.84" r="3.50" fill="#6dd457"/>
<circle cx="963.20" cy="397.84" r="3.50" fill="#89d555"/>
<circle cx="973.20" cy="397.84" r="3.50" fill="#7ad456"/>
<circle cx="983.20" cy="397.84" r="3.50" fill="#dad250"/>
<circle cx="993.20" cy="397.84" r="3.50" fill="#dad250"/>
<circle cx="1003.20" cy="397.84" r="3.50" fill="#98d654"/>
<circle cx="1013.20" cy="397.84" r="3.50" fill="#7ad456"/>
<circle cx="1023.20" cy="397.84" r="3.50" fill="#b7d853"/>
<circle cx="1033.20" cy="397.84" r="3.50" fill="#a7d753"/>
<circle cx="1043.20" cy="397.84" r="3.50" fill="#dad250"/>
<circle cx="1053.20" cy="397.84" r="3.50" fill="#c6d952"/>
<circle cx="1063.20" cy="397.84" r="3.50" fill="#6dd457"/>
<circle cx="1073.20" cy="397.84" r="3.50" fill="#89d555"/>
<circle cx="1083.20" cy="397.84" r="3.50" fill="#89d555"/>
<circle cx="1093.20" cy="397.84" r="3.50" fill="#62d357"/>
<circle cx="1103.20" cy="397.84" r="3.50" fill="#d3d951"/>
<circle cx="1113.20" cy="397.84" r="3.50" fill="#dad851"/>
<circle cx="1123.20" cy="397.84" r="3.50" fill="#dad851"/>
<circle cx="1133.20" cy="397.84" r="3.50" fill="#b7d853"/>
<circle cx="1143.20" cy="397.84" r="3.50" fill="#98d654"/>
<circle cx="1153.20" cy="397.84" r="3.50" fill="#6dd457"/>
<circle cx="1163.20" cy="397.84" r="3.50" fill="#98d654"/>
<circle cx="703.20" cy="407.84" r="3.50" fill="#a8d753"/>
<circle cx="713.20" cy="407.84" r="3.50" fill="#99d654"/>
<circle cx="723.20" cy="407.84" r="3.50" fill="#c7d952"/>
<circle cx="733.20" cy="407.84" r="3.50" fill="#b8d853"/>
<circle cx="743.20" cy="407.84" r="3.50" fill="#dad150"/>
<circle cx="753.20" cy="407.84" r="3.50" fill="#99d654"/>
<circle cx="763.20" cy="407.84" r="3.50" fill="#dad851"/>
<circle cx="773.20" cy="407.84" r="3.50" fill="#7bd456"/>
<circle cx="783.20" cy="407.84" r="3.50" fill="#a8d753"/>
<circle cx="793.20" cy="407.84" r="3.50" fill="#d3d951"/>
<circle cx="803.20" cy="407.84" r="3.50" fill="#dad851"/>
<circle cx="813.20" cy="407.84" r="3.50" fill="#d3d951"/>
<circle cx="823.20" cy="407.84" r="3.50" fill="#a8d753"/>
<circle cx="833.20" cy="407.84" r="3.50" fill="#99d654"/>
<circle cx="843.20" cy="407.84" r="3.50" fill="#dad851"/>
<circle cx="853.20" cy="407.84" r="3.50" fill="#dad150"/>
<circle cx="863.20" cy="407.84" r="3.50" fill="#b8d853"/>
<circle cx="873.20" cy="407.84" r="3.50" fill="#a8d753"/>
<circle cx="883.20" cy="407.84" r="3.50" fill="#c7d952"/>
<circle cx="893.20" cy="407.84" r="3.50" fill="#dad851"/>
<circle cx="903.20" cy="407.84" r="3.50" fill="#a8d753"/>
<circle cx="913.20" cy="407.84" r="3.50" fill="#dad150"/>
<circle cx="923.20" cy="407.84" r="3.50" fill="#d3d951"/>
<circle cx="933.20" cy="407.84" r="3.50" fill="#c7d952"/>
<circle cx="943.20" cy="407.84" r="3.50" fill="#6ed457"/>
<circle cx="953.20" cy="407.84" r="3.50" fill="#a8d753"/>
<circle cx="963.20" cy="407.84" r="3.50" fill="#7bd456"/>
<circle cx="973.20" cy="407.84" r="3.50" fill="#b8d853"/>
<circle cx="983.20" cy="407.84" r="3.50" fill="#dad851"/>
<circle cx="993.20" cy="407.84" r="3.50" fill="#d3d951"/>
<circle cx="1003.20" cy="407.84" r="3.50" fill="#6ed457"/>
<circle cx="1013.20" cy="407.84" r="3.50" fill="#99d654"/>
<circle cx="1023.20" cy="407.84" r="3.50" fill="#d3d951"/>
<circle cx="1033.20" cy="407.84" r="3.50" fill="#dad150"/>
<circle cx="1043.20" cy="407.84" r="3.50" fill="#b8d853"/>
<circle cx="1053.20" cy="407.84" r="3.50" fill="#a8d753"/>
<circle cx="1063.20" cy="407.84" r="3.50" fill="#c7d952"/>
<circle cx="1073.20" cy="407.84" r="3.50" fill="#d3d951"/>
<circle cx="1083.20" cy="407.84" r="3.50" fill="#a8d753"/>
<circle cx="1093.20" cy="407.84" r="3.50" fill="#7bd456"/>
<circle cx="1103.20" cy="407.84" r="3.50" fill="#dad851"/>
<circle cx="1113.20" cy="407.84" r="3.50" fill="#dad150"/>
<circle cx="1123.20" cy="407.84" r="3.50" fill="#d3d951"/>
<circle cx="1133.20" cy="407.84" r="3.50" fill="#c7d952"/>
<circle cx="1143.20" cy="407.84" r="3.50" fill="#99d654"/>
<circle cx="1153.20" cy="407.84" r="3.50" fill="#dad851"/>
<circle cx="1163.20" cy="407.84" r="3.50" fill="#8ad555"/>
<circle cx="703.20" cy="417.84" r="3.50" fill="#9ad654"/>
<circle cx="713.20" cy="417.84" r="3.50" fill="#b9d852"/>
<circle cx="723.20" cy="417.84" r="3.50" fill="#dad751"/>
<circle cx="733.20" cy="417.84" r="3.50" fill="#6fd457"/>
<circle cx="743.20" cy="417.84" r="3.50" fill="#d4d951"/>
<circle cx="753.20" cy="417.84" r="3.50" fill="#8ad555"/>
<circle cx="763.20" cy="417.84" r="3.50" fill="#dad751"/>
<circle cx="773.20" cy="417.84" r="3.50" fill="#dad751"/>
<circle cx="783.20" cy="417.84" r="3.50" fill="#9ad654"/>
<circle cx="793.20" cy="417.84" r="3.50" fill="#d4d951"/>
<circle cx="803.20" cy="417.84" r="3.50" fill="#6fd457"/>
<circle cx="813.20" cy="417.84" r="3.50" fill="#b9d852"/>
<circle cx="823.20" cy="417.84" r="3.50" fill="#dad751"/>
<circle cx="833.20" cy="417.84" r="3.50" fill="#dad751"/>
<circle cx="843.20" cy="417.84" r="3.50" fill="#c8d952"/>
<circle cx="853.20" cy="417.84" r="3.50" fill="#a9d753"/>
<circle cx="863.20" cy="417.84" r="3.50" fill="#6fd457"/>
<circle cx="873.20" cy="417.84" r="3.50" fill="#dad751"/>
<circle cx="883.20" cy="417.84" r="3.50" fill="#c8d952"/>
<circle cx="893.20" cy="417.84" r="3.50" fill="#dad751"/>
<circle cx="903.20" cy="417.84" r="3.50" fill="#63d357"/>
<circle cx="913.20" cy="417.84" r="3.50" fill="#dad751"/>
<circle cx="923.20" cy="417.84" r="3.50" fill="#dad150"/>
<circle cx="933.20" cy="417.84" r="3.50" fill="#dad150"/>
<circle cx="943.20" cy="417.84" r="3.50" fill="#c8d952"/>
<circle cx="953.20" cy="417.84" r="3.50" fill="#7cd456"/>
<circle cx="963.20" cy="417.84" r="3.50" fill="#7cd456"/>
<circle cx="973.20" cy="417.84" r="3.50" fill="#9ad654"/>
<circle cx="983.20" cy="417.84" r="3.50" fill="#dbbe4f"/>
<circle cx="993.20" cy="417.84" r="3.50" fill="#6fd457"/>
<circle cx="1003.20" cy="417.84" r="3.50" fill="#d4d951"/>
<circle cx="1013.20" cy="417.84" r="3.50" fill="#dad751"/>
<circle cx="1023.20" cy="417.84" r="3.50" fill="#6fd457"/>
<circle cx="1033.20" cy="417.84" r="3.50" fill="#9ad654"/>
<circle cx="1043.20" cy="417.84" r="3.50" fill="#dad150"/>
<circle cx="1053.20" cy="417.84" r="3.50" fill="#a9d753"/>
<circle cx="1063.20" cy="417.84" r="3.50" fill="#c8d952"/>
<circle cx="1073.20" cy="417.84" r="3.50" fill="#d4d951"/>
<circle cx="1083.20" cy="417.84" r="3.50" fill="#d4d951"/>
<circle cx="1093.20" cy="417.84" r="3.50" fill="#dad751"/>
<circle cx="1103.20" cy="417.84" r="3.50" fill="#dad150"/>
<circle cx="1113.20" cy="417.84" r="3.50" fill="#d4d951"/>
<circle cx="1123.20" cy="417.84" r="3.50" fill="#d4d951"/>
<circle cx="1133.20" cy="417.84" r="3.50" fill="#6fd457"/>
<circle cx="1143.20" cy="417.84" r="3.50" fill="#dad751"/>
<circle cx="1153.20" cy="417.84" r="3.50" fill="#6fd457"/>
<circle cx="1163.20" cy="417.84" r="3.50" fill="#dad751"/>
<circle cx="703.20" cy="427.84" r="3.50" fill="#d4d951"/>
<circle cx="713.20" cy="427.84" r="3.50" fill="#8bd555"/>
<circle cx="723.20" cy="427.84" r="3.50" fill="#8bd555"/>
<circle cx="733.20" cy="427.84" r="3.50" fill="#c9d952"/>
<circle cx="743.20" cy="427.84" r="3.50" fill="#dad150"/>
<circle cx="753.20" cy="427.84" r="3.50" fill="#c9d952"/>
<circle cx="763.20" cy="427.84" r="3.50" fill="#d4d951"/>
<circle cx="773.20" cy="427.84" r="3.50" fill="#7dd556"/>
<circle cx="783.20" cy="427.84" r="3.50" fill="#dad751"/>
<circle cx="793.20" cy="427.84" r="3.50" fill="#d4d951"/>
<circle cx="803.20" cy="427.84" r="3.50" fill="#7dd556"/>
<circle cx="813.20" cy="427.84" r="3.50" fill="#dad150"/>
<circle cx="823.20" cy="427.84" r="3.50" fill="#c9d952"/>
<circle cx="833.20" cy="427.84" r="3.50" fill="#8bd555"/>
<circle cx="843.20" cy="427.84" r="3.50" fill="#9ad654"/>
<circle cx="853.20" cy="427.84" r="3.50" fill="#dad150"/>
<circle cx="863.20" cy="427.84" r="3.50" fill="#dad150"/>
<circle cx="873.20" cy="427.84" r="3.50" fill="#dad150"/>
<circle cx="883.20" cy="427.84" r="3.50" fill="#7dd556"/>
<circle cx="893.20" cy="427.84" r="3.50" fill="#dad751"/>
<circle cx="903.20" cy="427.84" r="3.50" fill="#9ad654"/>
<circle cx="913.20" cy="427.84" r="3.50" fill="#7dd556"/>
<circle cx="923.20" cy="427.84" r="3.50" fill="#d4d951"/>
<circle cx="933.20" cy="427.84" r="3.50" fill="#d4d951"/>
<circle cx="943.20" cy="427.84" r="3.50" fill="#6fd457"/>
<circle cx="953.20" cy="427.84" r="3.50" fill="#aad753"/>
<circle cx="963.20" cy="427.84" r="3.50" fill="#d4d951"/>
<circle cx="973.20" cy="427.84" r="3.50" fill="#9ad654"/>
<circle cx="983.20" cy="427.84" r="3.50" fill="#d4d951"/>
<circle cx="993.20" cy="427.84" r="3.50" fill="#d4d951"/>
<circle cx="1003.20" cy="427.84" r="3.50" fill="#dad150"/>
<circle cx="1013.20" cy="427.84" r="3.50" fill="#9ad654"/>
<circle cx="1023.20" cy="427.84" r="3.50" fill="#7dd556"/>
<circle cx="1033.20" cy="427.84" r="3.50" fill="#aad753"/>
<circle cx="1043.20" cy="427.84" r="3.50" fill="#6fd457"/>
<circle cx="1053.20" cy="427.84" r="3.50" fill="#dad150"/>
<circle cx="1063.20" cy="427.84" r="3.50" fill="#dad751"/>
<circle cx="1073.20" cy="427.84" r="3.50" fill="#c9d952"/>
<circle cx="1083.20" cy="427.84" r="3.50" fill="#6fd457"/>
<circle cx="1093.20" cy="427.84" r="3.50" fill="#6fd457"/>
<circle cx="1103.20" cy="427.84" r="3.50" fill="#d4d951"/>
<circle cx="1113.20" cy="427.84" r="3.50" fill="#dad751"/>
<circle cx="1123.20" cy="427.84" r="3.50" fill="#c9d952"/>
<circle cx="1133.20" cy="427.84" r="3.50" fill="#c9d952"/>
<circle cx="1143.20" cy="427.84" r="3.50" fill="#7dd556"/>
<circle cx="1153.20" cy="427.84" r="3.50" fill="#dad751"/>
<circle cx="1163.20" cy="427.84" r="3.50" fill="#8bd555"/>
<circle cx="703.20" cy="437.84" r="3.50" fill="#9bd654"/>
<circle cx="713.20" cy="437.84" r="3.50" fill="#8cd555"/>
<circle cx="723.20" cy="437.84" r="3.50" fill="#9bd654"/>
<circle cx="733.20" cy="437.84" r="3.50" fill="#bbd852"/>
<circle cx="743.20" cy="437.84" r="3.50" fill="#d5d951"/>
<circle cx="753.20" cy="437.84" r="3.50" fill="#d5d951"/>
<circle cx="763.20" cy="437.84" r="3.50" fill="#d5d951"/>
<circle cx="773.20" cy="437.84" r="3.50" fill="#9bd654"/>
<circle cx="783.20" cy="437.84" r="3.50" fill="#dad050"/>
<circle cx="793.20" cy="437.84" r="3.50" fill="#dad751"/>
<circle cx="803.20" cy="437.84" r="3.50" fill="#9bd654"/>
<circle cx="813.20" cy="437.84" r="3.50" fill="#dad751"/>
<circle cx="823.20" cy="437.84" r="3.50" fill="#dad050"/>
<circle cx="833.20" cy="437.84" r="3.50" fill="#dad050"/>
<circle cx="843.20" cy="437.84" r="3.50" fill="#bbd852"/>
<circle cx="853.20" cy="437.84" r="3.50" fill="#d5d951"/>
<circle cx="863.20" cy="437.84" r="3.50" fill="#64d357"/>
<circle cx="873.20" cy="437.84" r="3.50" fill="#7ed556"/>
<circle cx="883.20" cy="437.84" r="3.50" fill="#64d357"/>
<circle cx="893.20" cy="437.84" r="3.50" fill="#dad751"/>
<circle cx="903.20" cy="437.84" r="3.50" fill="#dad050"/>
<circle cx="913.20" cy="437.84" r="3.50" fill="#dad050"/>
<circle cx="923.20" cy="437.84" r="3.50" fill="#c9d952"/>
<circle cx="933.20" cy="437.84" r="3.50" fill="#abd753"/>
<circle cx="943.20" cy="437.84" r="3.50" fill="#c9d952"/>
<circle cx="953.20" cy="437.84" r="3.50" fill="#dad751"/>
<circle cx="963.20" cy="437.84" r="3.50" fill="#c9d952"/>
<circle cx="973.20" cy="437.84" r="3.50" fill="#abd753"/>
<circle cx="983.20" cy="437.84" r="3.50" fill="#abd753"/>
<circle cx="993.20" cy="437.84" r="3.50" fill="#9bd654"/>
<circle cx="1003.20" cy="437.84" r="3.50" fill="#8cd555"/>
<circle cx="1013.20" cy="437.84" r="3.50" fill="#abd753"/>
<circle cx="1023.20" cy="437.84" r="3.50" fill="#dad751"/>
<circle cx="1033.20" cy="437.84" r="3.50" fill="#8cd555"/>
<circle cx="1043.20" cy="437.84" r="3.50" fill="#d5d951"/>
<circle cx="1053.20" cy="437.84" r="3.50" fill="#bbd852"/>
<circle cx="1063.20" cy="437.84" r="3.50" fill="#d5d951"/>
<circle cx="1073.20" cy="437.84" r="3.50" fill="#9bd654"/>
<circle cx="1083.20" cy="437.84" r="3.50" fill="#dad751"/>
<circle cx="1093.20" cy="437.84" r="3.50" fill="#dad751"/>
<circle cx="1103.20" cy="437.84" r="3.50" fill="#dad751"/>
<circle cx="1113.20" cy="437.84" r="3.50" fill="#dad751"/>
<circle cx="1123.20" cy="437.84" r="3.50" fill="#7ed556"/>
<circle cx="1133.20" cy="437.84" r="3.50" fill="#bbd852"/>
<circle cx="1143.20" cy="437.84" r="3.50" fill="#d5d951"/>
<circle cx="1153.20" cy="437.84" r="3.50" fill="#d5d951"/>
<circle cx="1163.20" cy="437.84" r="3.50" fill="#dbbe4f"/>
<circle cx="703.20" cy="447.84" r="3.50" fill="#cad952"/>
<circle cx="713.20" cy="447.84" r="3.50" fill="#dad651"/>
<circle cx="723.20" cy="447.84" r="3.50" fill="#9cd654"/>
<circle cx="733.20" cy="447.84" r="3.50" fill="#acd753"/>
<circle cx="743.20" cy="447.84" r="3.50" fill="#dbbd4f"/>
<circle cx="753.20" cy="447.84" r="3.50" fill="#dad050"/>
<circle cx="763.20" cy="447.84" r="3.50" fill="#cad952"/>
<circle cx="773.20" cy="447.84" r="3.50" fill="#8dd555"/>
<circle cx="783.20" cy="447.84" r="3.50" fill="#8dd555"/>
<circle cx="793.20" cy="447.84" r="3.50" fill="#7fd556"/>
<circle cx="803.20" cy="447.84" r="3.50" fill="#dad050"/>
<circle cx="813.20" cy="447.84" r="3.50" fill="#d5d951"/>
<circle cx="823.20" cy="447.84" r="3.50" fill="#dad651"/>
<circle cx="833.20" cy="447.84" r="3.50" fill="#dad651"/>
<circle cx="843.20" cy="447.84" r="3.50" fill="#64d357"/>
<circle cx="853.20" cy="447.84" r="3.50" fill="#bcd852"/>
<circle cx="863.20" cy="447.84" r="3.50" fill="#7fd556"/>
<circle cx="873.20" cy="447.84" r="3.50" fill="#d5d951"/>
<circle cx="883.20" cy="447.84" r="3.50" fill="#8dd555"/>
<circle cx="893.20" cy="447.84" r="3.50" fill="#cad952"/>
<circle cx="903.20" cy="447.84" r="3.50" fill="#dad651"/>
<circle cx="913.20" cy="447.84" r="3.50" fill="#9cd654"/>
<circle cx="923.20" cy="447.84" r="3.50" fill="#71d457"/>
<circle cx="933.20" cy="447.84" r="3.50" fill="#dad050"/>
<circle cx="943.20" cy="447.84" r="3.50" fill="#bcd852"/>
<circle cx="953.20" cy="447.84" r="3.50" fill="#bcd852"/>
<circle cx="963.20" cy="447.84" r="3.50" fill="#dad651"/>
<circle cx="973.20" cy="447.84" r="3.50" fill="#d5d951"/>
<circle cx="983.20" cy="447.84" r="3.50" fill="#dad651"/>
<circle cx="993.20" cy="447.84" r="3.50" fill="#dad651"/>
<circle cx="1003.20" cy="447.84" r="3.50" fill="#dad651"/>
<circle cx="1013.20" cy="447.84" r="3.50" fill="#bcd852"/>
<circle cx="1023.20" cy="447.84" r="3.50" fill="#acd753"/>
<circle cx="1033.20" cy="447.84" r="3.50" fill="#dad651"/>
<circle cx="1043.20" cy="447.84" r="3.50" fill="#dad050"/>
<circle cx="1053.20" cy="447.84" r="3.50" fill="#d5d951"/>
<circle cx="1063.20" cy="447.84" r="3.50" fill="#acd753"/>
<circle cx="1073.20" cy="447.84" r="3.50" fill="#dad651"/>
<circle cx="1083.20" cy="447.84" r="3.50" fill="#d5d951"/>
<circle cx="1093.20" cy="447.84" r="3.50" fill="#dad651"/>
<circle cx="1103.20" cy="447.84" r="3.50" fill="#9cd654"/>
<circle cx="1113.20" cy="447.84" r="3.50" fill="#bcd852"/>
<circle cx="1123.20" cy="447.84" r="3.50" fill="#dad050"/>
<circle cx="1133.20" cy="447.84" r="3.50" fill="#dad050"/>
<circle cx="1143.20" cy="447.84" r="3.50" fill="#d5d951"/>
<circle cx="1153.20" cy="447.84" r="3.50" fill="#bcd852"/>
<circle cx="1163.20" cy="447.84" r="3.50" fill="#acd753"/>
<circle cx="703.20" cy="457.84" r="3.50" fill="#dad050"/>
<circle cx="713.20" cy="457.84" r="3.50" fill="#dad651"/>
<circle cx="723.20" cy="457.84" r="3.50" fill="#add753"/>
<circle cx="733.20" cy="457.84" r="3.50" fill="#d6d951"/>
<circle cx="743.20" cy="457.84" r="3.50" fill="#dad651"/>
<circle cx="753.20" cy="457.84" r="3.50" fill="#d6d951"/>
<circle cx="763.20" cy="457.84" r="3.50" fill="#71d456"/>
<circle cx="773.20" cy="457.84" r="3.50" fill="#d6d951"/>
<circle cx="783.20" cy="457.84" r="3.50" fill="#bdd852"/>
<circle cx="793.20" cy="457.84" r="3.50" fill="#d6d951"/>
<circle cx="803.20" cy="457.84" r="3.50" fill="#d6d951"/>
<circle cx="813.20" cy="457.84" r="3.50" fill="#8ed655"/>
<circle cx="823.20" cy="457.84" r="3.50" fill="#dbbd4f"/>
<circle cx="833.20" cy="457.84" r="3.50" fill="#d6d951"/>
<circle cx="843.20" cy="457.84" r="3.50" fill="#dad651"/>
<circle cx="853.20" cy="457.84" r="3.50" fill="#add753"/>
<circle cx="863.20" cy="457.84" r="3.50" fill="#dad651"/>
<circle cx="873.20" cy="457.84" r="3.50" fill="#dad050"/>
<circle cx="883.20" cy="457.84" r="3.50" fill="#7fd556"/>
<circle cx="893.20" cy="457.84" r="3.50" fill="#d6d951"/>
<circle cx="903.20" cy="457.84" r="3.50" fill="#9dd654"/>
<circle cx="913.20" cy="457.84" r="3.50" fill="#d6d951"/>
<circle cx="923.20" cy="457.84" r="3.50" fill="#8ed655"/>
<circle cx="933.20" cy="457.84" r="3.50" fill="#cbd952"/>
<circle cx="943.20" cy="457.84" r="3.50" fill="#dad651"/>
<circle cx="953.20" cy="457.84" r="3.50" fill="#dad050"/>
<circle cx="963.20" cy="457.84" r="3.50" fill="#bdd852"/>
<circle cx="973.20" cy="457.84" r="3.50" fill="#add753"/>
<circle cx="983.20" cy="457.84" r="3.50" fill="#7fd556"/>
<circle cx="993.20" cy="457.84" r="3.50" fill="#dad050"/>
<circle cx="1003.20" cy="457.84" r="3.50" fill="#bdd852"/>
<circle cx="1013.20" cy="457.84" r="3.50" fill="#d6d951"/>
<circle cx="1023.20" cy="457.84" r="3.50" fill="#cbd952"/>
<circle cx="1033.20" cy="457.84" r="3.50" fill="#dad651"/>
<circle cx="1043.20" cy="457.84" r="3.50" fill="#dad651"/>
<circle cx="1053.20" cy="457.84" r="3.50" fill="#cbd952"/>
<circle cx="1063.20" cy="457.84" r="3.50" fill="#7fd556"/>
<circle cx="1073.20" cy="457.84" r="3.50" fill="#dad050"/>
<circle cx="1083.20" cy="457.84" r="3.50" fill="#cbd952"/>
<circle cx="1093.20" cy="457.84" r="3.50" fill="#9dd654"/>
<circle cx="1103.20" cy="457.84" r="3.50" fill="#71d456"/>
<circle cx="1113.20" cy="457.84" r="3.50" fill="#dad651"/>
<circle cx="1123.20" cy="457.84" r="3.50" fill="#dad651"/>
<circle cx="1133.20" cy="457.84" r="3.50" fill="#71d456"/>
<circle cx="1143.20" cy="457.84" r="3.50" fill="#64d357"/>
<circle cx="1153.20" cy="457.84" r="3.50" fill="#cbd952"/>
<circle cx="1163.20" cy="457.84" r="3.50" fill="#dad050"/>
<circle cx="703.20" cy="467.84" r="3.50" fill="#80d556"/>
<circle cx="713.20" cy="467.84" r="3.50" fill="#d6d951"/>
<circle cx="723.20" cy="467.84" r="3.50" fill="#80d556"/>
<circle cx="733.20" cy="467.84" r="3.50" fill="#bed852"/>
<circle cx="743.20" cy="467.84" r="3.50" fill="#9ed654"/>
<circle cx="753.20" cy="467.84" r="3.50" fill="#dad651"/>
<circle cx="763.20" cy="467.84" r="3.50" fill="#9ed654"/>
<circle cx="773.20" cy="467.84" r="3.50" fill="#dad651"/>
<circle cx="783.20" cy="467.84" r="3.50" fill="#d6d951"/>
<circle cx="793.20" cy="467.84" r="3.50" fill="#8fd655"/>
<circle cx="803.20" cy="467.84" r="3.50" fill="#9ed654"/>
<circle cx="813.20" cy="467.84" r="3.50" fill="#dad651"/>
<circle cx="823.20" cy="467.84" r="3.50" fill="#dad651"/>
<circle cx="833.20" cy="467.84" r="3.50" fill="#d6d951"/>
<circle cx="843.20" cy="467.84" r="3.50" fill="#ccd951"/>
<circle cx="853.20" cy="467.84" r="3.50" fill="#d6d951"/>
<circle cx="863.20" cy="467.84" r="3.50" fill="#dacf50"/>
<circle cx="873.20" cy="467.84" r="3.50" fill="#dad651"/>
<circle cx="883.20" cy="467.84" r="3.50" fill="#aed753"/>
<circle cx="893.20" cy="467.84" r="3.50" fill="#80d556"/>
<circle cx="903.20" cy="467.84" r="3.50" fill="#dacf50"/>
<circle cx="913.20" cy="467.84" r="3.50" fill="#bed852"/>
<circle cx="923.20" cy="467.84" r="3.50" fill="#9ed654"/>
<circle cx="933.20" cy="467.84" r="3.50" fill="#dacf50"/>
<circle cx="943.20" cy="467.84" r="3.50" fill="#8fd655"/>
<circle cx="953.20" cy="467.84" r="3.50" fill="#dacf50"/>
<circle cx="963.20" cy="467.84" r="3.50" fill="#bed852"/>
<circle cx="973.20" cy="467.84" r="3.50" fill="#ccd951"/>
<circle cx="983.20" cy="467.84" r="3.50" fill="#bed852"/>
<circle cx="993.20" cy="467.84" r="3.50" fill="#dad651"/>
<circle cx="1003.20" cy="467.84" r="3.50" fill="#d6d951"/>
<circle cx="1013.20" cy="467.84" r="3.50" fill="#bed852"/>
<circle cx="1023.20" cy="467.84" r="3.50" fill="#d6d951"/>
<circle cx="1033.20" cy="467.84" r="3.50" fill="#aed753"/>
<circle cx="1043.20" cy="467.84" r="3.50" fill="#d6d951"/>
<circle cx="1053.20" cy="467.84" r="3.50" fill="#d6d951"/>
<circle cx="1063.20" cy="467.84" r="3.50" fill="#dacf50"/>
<circle cx="1073.20" cy="467.84" r="3.50" fill="#bed852"/>
<circle cx="1083.20" cy="467.84" r="3.50" fill="#ccd951"/>
<circle cx="1093.20" cy="467.84" r="3.50" fill="#dad651"/>
<circle cx="1103.20" cy="467.84" r="3.50" fill="#9ed654"/>
<circle cx="1113.20" cy="467.84" r="3.50" fill="#9ed654"/>
<circle cx="1123.20" cy="467.84" r="3.50" fill="#ccd951"/>
<circle cx="1133.20" cy="467.84" r="3.50" fill="#dad651"/>
<circle cx="1143.20" cy="467.84" r="3.50" fill="#ccd951"/>
<circle cx="1153.20" cy="467.84" r="3.50" fill="#dacf50"/>
<circle cx="1163.20" cy="467.84" r="3.50" fill="#dad651"/>
<circle cx="703.20" cy="477.84" r="3.50" fill="#d7d951"/>
<circle cx="713.20" cy="477.84" r="3.50" fill="#dacf50"/>
<circle cx="723.20" cy="477.84" r="3.50" fill="#d7d951"/>
<circle cx="733.20" cy="477.84" r="3.50" fill="#cdd951"/>
<circle cx="743.20" cy="477.84" r="3.50" fill="#dacf50"/>
<circle cx="753.20" cy="477.84" r="3.50" fill="#bfd852"/>
<circle cx="763.20" cy="477.84" r="3.50" fill="#dacf50"/>
<circle cx="773.20" cy="477.84" r="3.50" fill="#afd753"/>
<circle cx="783.20" cy="477.84" r="3.50" fill="#9fd654"/>
<circle cx="793.20" cy="477.84" r="3.50" fill="#cdd951"/>
<circle cx="803.20" cy="477.84" r="3.50" fill="#dacf50"/>
<circle cx="813.20" cy="477.84" r="3.50" fill="#cdd951"/>
<circle cx="823.20" cy="477.84" r="3.50" fill="#d7d951"/>
<circle cx="833.20" cy="477.84" r="3.50" fill="#73d456"/>
<circle cx="843.20" cy="477.84" r="3.50" fill="#dad651"/>
<circle cx="853.20" cy="477.84" r="3.50" fill="#90d655"/>
<circle cx="863.20" cy="477.84" r="3.50" fill="#dbbd4f"/>
<circle cx="873.20" cy="477.84" r="3.50" fill="#afd753"/>
<circle cx="883.20" cy="477.84" r="3.50" fill="#9fd654"/>
<circle cx="893.20" cy="477.84" r="3.50" fill="#dad651"/>
<circle cx="903.20" cy="477.84" r="3.50" fill="#65d357"/>
<circle cx="913.20" cy="477.84" r="3.50" fill="#cdd951"/>
<circle cx="923.20" cy="477.84" r="3.50" fill="#73d456"/>
<circle cx="933.20" cy="477.84" r="3.50" fill="#81d556"/>
<circle cx="943.20" cy="477.84" r="3.50" fill="#dad651"/>
<circle cx="953.20" cy="477.84" r="3.50" fill="#9fd654"/>
<circle cx="963.20" cy="477.84" r="3.50" fill="#81d556"/>
<circle cx="973.20" cy="477.84" r="3.50" fill="#dacf50"/>
<circle cx="983.20" cy="477.84" r="3.50" fill="#d7d951"/>
<circle cx="993.20" cy="477.84" r="3.50" fill="#afd753"/>
<circle cx="1003.20" cy="477.84" r="3.50" fill="#dad651"/>
<circle cx="1013.20" cy="477.84" r="3.50" fill="#90d655"/>
<circle cx="1023.20" cy="477.84" r="3.50" fill="#dad651"/>
<circle cx="1033.20" cy="477.84" r="3.50" fill="#9fd654"/>
<circle cx="1043.20" cy="477.84" r="3.50" fill="#dad651"/>
<circle cx="1053.20" cy="477.84" r="3.50" fill="#cdd951"/>
<circle cx="1063.20" cy="477.84" r="3.50" fill="#81d556"/>
<circle cx="1073.20" cy="477.84" r="3.50" fill="#dad651"/>
<circle cx="1083.20" cy="477.84" r="3.50" fill="#dad651"/>
<circle cx="1093.20" cy="477.84" r="3.50" fill="#cdd951"/>
<circle cx="1103.20" cy="477.84" r="3.50" fill="#dad651"/>
<circle cx="1113.20" cy="477.84" r="3.50" fill="#dacf50"/>
<circle cx="1123.20" cy="477.84" r="3.50" fill="#dad651"/>
<circle cx="1133.20" cy="477.84" r="3.50" fill="#dad651"/>
<circle cx="1143.20" cy="477.84" r="3.50" fill="#81d556"/>
<circle cx="1153.20" cy="477.84" r="3.50" fill="#afd753"/>
<circle cx="1163.20" cy="477.84" r="3.50" fill="#90d655"/>
<circle cx="833.20" cy="487.84" r="3.50" fill="#dad551"/>
<circle cx="843.20" cy="487.84" r="3.50" fill="#a0d754"/>
<circle cx="853.20" cy="487.84" r="3.50" fill="#dacf50"/>
<circle cx="863.20" cy="487.84" r="3.50" fill="#ced951"/>
<circle cx="873.20" cy="487.84" r="3.50" fill="#c0d852"/>
<circle cx="883.20" cy="487.84" r="3.50" fill="#d7d951"/>
<circle cx="893.20" cy="487.84" r="3.50" fill="#91d655"/>
<circle cx="903.20" cy="487.84" r="3.50" fill="#ced951"/>
<circle cx="913.20" cy="487.84" r="3.50" fill="#ced951"/>
<circle cx="923.20" cy="487.84" r="3.50" fill="#91d655"/>
<circle cx="933.20" cy="487.84" r="3.50" fill="#dacf50"/>
<circle cx="943.20" cy="487.84" r="3.50" fill="#dbbd4f"/>
<circle cx="953.20" cy="487.84" r="3.50" fill="#c0d852"/>
<circle cx="963.20" cy="487.84" r="3.50" fill="#d7d951"/>
<circle cx="973.20" cy="487.84" r="3.50" fill="#a0d754"/>
<circle cx="983.20" cy="487.84" r="3.50" fill="#dad551"/>
<circle cx="993.20" cy="487.84" r="3.50" fill="#dbbd4f"/>
<circle cx="1003.20" cy="487.84" r="3.50" fill="#ced951"/>
<circle cx="1013.20" cy="487.84" r="3.50" fill="#d7d951"/>
<circle cx="1023.20" cy="487.84" r="3.50" fill="#b0d753"/>
<circle cx="1033.20" cy="487.84" r="3.50" fill="#d7d951"/>
</svg>
<svg class="ic" style="left:202.45px;top:537.15px;width:11.5px;height:11.5px;color:#343b4d" viewBox="0 0 24 24" fill="none" stroke="currentColor" stroke-width="2.3" stroke-linecap="round" stroke-linejoin="round" ><path d="M21.174 6.812a1 1 0 0 0-3.986-3.987L3.842 16.174a2 2 0 0 0-.5.830l-1.321 4.352a.5.5 0 0 0 .623.622l4.353-1.320a2 2 0 0 0 .830-.497z"/><path d="m15 5 4 4"/></svg>
<div class="t" style="left:219.8px;top:543px;font-size:9.75px;color:#343b4d;font-weight:700;letter-spacing:0.32px;transform:translate(0,-50%);">Drafts (3)</div>
<svg class="ic" style="left:695.15px;top:536.95px;width:11.5px;height:11.5px;color:#343b4d" viewBox="0 0 24 24" fill="none" stroke="currentColor" stroke-width="2.3" stroke-linecap="round" stroke-linejoin="round" ><path d="M21 15v4a2 2 0 0 1-2 2H5a2 2 0 0 1-2-2v-4"/><polyline points="17 8 12 3 7 8"/><line x1="12" x2="12" y1="3" y2="15"/></svg>
<div class="t" style="left:712.9px;top:543px;font-size:9.75px;color:#343b4d;font-weight:700;transform:translate(0,-50%);">Live Lists (1)</div>
<div class="b" style="left:202.1px;top:558.5px;width:481.50px;height:101.50px;background:#fff;border:1px solid #e9ecf2;border-radius:6px;box-sizing:border-box;box-shadow:0 1px 2px rgba(20,30,70,.03);"></div>
<svg class="ic" style="left:209.15px;top:569.75px;width:10.5px;height:10.5px;color:#6b7385" viewBox="0 0 24 24" fill="none" stroke="currentColor" stroke-width="2.4" stroke-linecap="round" stroke-linejoin="round" ><path d="m18 15-6-6-6 6"/></svg>
<div class="t" style="left:226.3px;top:575.2px;font-size:9.75px;color:#232a3c;font-weight:700;letter-spacing:0.02px;transform:translate(0,-50%);">Hotels, Lodges &amp; Camps</div>
<div class="t" style="left:348.1px;top:575.4px;font-size:8.3px;color:#9aa1b0;font-weight:400;letter-spacing:0.1px;transform:translate(0,-50%);">47 KW</div>
<svg class="ic" style="left:603.40px;top:569.90px;width:9.8px;height:9.8px;color:#c5cad6" viewBox="0 0 24 24" fill="none" stroke="currentColor" stroke-width="2.1" stroke-linecap="round" stroke-linejoin="round" ><path d="M11.525 2.295a.53.53 0 0 1 .95 0l2.31 4.679a2.123 2.123 0 0 0 1.595 1.16l5.166.756a.53.53 0 0 1 .294.904l-3.736 3.638a2.123 2.123 0 0 0-.611 1.878l.882 5.14a.53.53 0 0 1-.771.56l-4.618-2.428a2.122 2.122 0 0 0-1.973 0L6.396 21.01a.53.53 0 0 1-.77-.56l.881-5.139a2.122 2.122 0 0 0-.611-1.879L2.16 9.795a.53.53 0 0 1 .294-.906l5.165-.755a2.122 2.122 0 0 0 1.597-1.16z"/></svg>
<svg class="ic" style="left:616.30px;top:569.90px;width:9.8px;height:9.8px;color:#979eb0" viewBox="0 0 24 24" fill="none" stroke="currentColor" stroke-width="2.1" stroke-linecap="round" stroke-linejoin="round" ><rect width="14" height="14" x="8" y="8" rx="2" ry="2"/><path d="M4 16c-1.100 0-2-.9-2-2V4c0-1.100.9-2 2-2h10c1.100 0 2 .9 2 2"/></svg>
<svg class="ic" style="left:629.20px;top:569.90px;width:9.8px;height:9.8px;color:#979eb0" viewBox="0 0 24 24" fill="none" stroke="currentColor" stroke-width="2.1" stroke-linecap="round" stroke-linejoin="round" ><path d="M21.174 6.812a1 1 0 0 0-3.986-3.987L3.842 16.174a2 2 0 0 0-.5.830l-1.321 4.352a.5.5 0 0 0 .623.622l4.353-1.320a2 2 0 0 0 .830-.497z"/><path d="m15 5 4 4"/></svg>
<svg class="ic" style="left:642.10px;top:569.90px;width:9.8px;height:9.8px;color:#979eb0" viewBox="0 0 24 24" fill="none" stroke="currentColor" stroke-width="2.1" stroke-linecap="round" stroke-linejoin="round" ><path d="M21 15v4a2 2 0 0 1-2 2H5a2 2 0 0 1-2-2v-4"/><polyline points="17 8 12 3 7 8"/><line x1="12" x2="12" y1="3" y2="15"/></svg>
<svg class="ic" style="left:655.00px;top:569.90px;width:9.8px;height:9.8px;color:#f59e0b" viewBox="0 0 24 24" fill="none" stroke="currentColor" stroke-width="2.1" stroke-linecap="round" stroke-linejoin="round" ><path d="M9.937 15.500A2 2 0 0 0 8.500 14.063l-6.135-1.582a.5.5 0 0 1 0-.962L8.500 9.936A2 2 0 0 0 9.937 8.500l1.582-6.135a.5.5 0 0 1 .963 0L14.063 8.500A2 2 0 0 0 15.500 9.937l6.135 1.581a.5.5 0 0 1 0 .964L15.500 14.063a2 2 0 0 0-1.437 1.437l-1.582 6.135a.5.5 0 0 1-.963 0z"/><path d="M20 3v4"/><path d="M22 5h-4"/><path d="M4 17v2"/><path d="M5 18H3"/></svg>
<svg class="ic" style="left:667.90px;top:569.90px;width:9.8px;height:9.8px;color:#f07f7f" viewBox="0 0 24 24" fill="none" stroke="currentColor" stroke-width="2.1" stroke-linecap="round" stroke-linejoin="round" ><path d="M3 6h18"/><path d="M19 6v14c0 1-1 2-2 2H7c-1 0-2-1-2-2V6"/><path d="M8 6V4c0-1 1-2 2-2h4c1 0 2 1 2 2v2"/><line x1="10" x2="10" y1="11" y2="17"/><line x1="14" x2="14" y1="11" y2="17"/></svg>
<div class="b" style="left:208.75px;top:591.4px;width:143.15px;height:15.20px;background:#fffbec;border:1px solid #fce9b0;border-radius:3px;box-sizing:border-box;"></div>
<svg class="ic" style="left:212.95px;top:595.00px;width:6px;height:8px" viewBox="0 0 6 8"><g fill="#d9c9a0"><circle cx="1.800" cy="1.200" r=".7"/><circle cx="4.200" cy="1.200" r=".7"/><circle cx="1.800" cy="4" r=".7"/><circle cx="4.200" cy="4" r=".7"/><circle cx="1.800" cy="6.800" r=".7"/><circle cx="4.200" cy="6.800" r=".7"/></g></svg>
<div class="t" style="left:222.65px;top:599.1px;font-size:9px;color:#b45f1a;font-weight:400;letter-spacing:0.05px;transform:translate(0,-50%);">"severin safari camp preise"</div>
<div class="b" style="left:355.4px;top:591.4px;width:182.10px;height:15.20px;background:#fffbec;border:1px solid #fce9b0;border-radius:3px;box-sizing:border-box;"></div>
<svg class="ic" style="left:359.60px;top:595.00px;width:6px;height:8px" viewBox="0 0 6 8"><g fill="#d9c9a0"><circle cx="1.800" cy="1.200" r=".7"/><circle cx="4.200" cy="1.200" r=".7"/><circle cx="1.800" cy="4" r=".7"/><circle cx="4.200" cy="4" r=".7"/><circle cx="1.800" cy="6.800" r=".7"/><circle cx="4.200" cy="6.800" r=".7"/></g></svg>
<div class="t" style="left:369.29999999999995px;top:599.1px;font-size:9px;color:#b45f1a;font-weight:400;letter-spacing:0.05px;transform:translate(0,-50%);">"leopard beach resort kenia ausflüge"</div>
<div class="b" style="left:541.5px;top:591.4px;width:135.40px;height:15.20px;background:#fffbec;border:1px solid #fce9b0;border-radius:3px;box-sizing:border-box;"></div>
<svg class="ic" style="left:545.70px;top:595.00px;width:6px;height:8px" viewBox="0 0 6 8"><g fill="#d9c9a0"><circle cx="1.800" cy="1.200" r=".7"/><circle cx="4.200" cy="1.200" r=".7"/><circle cx="1.800" cy="4" r=".7"/><circle cx="4.200" cy="4" r=".7"/><circle cx="1.800" cy="6.800" r=".7"/><circle cx="4.200" cy="6.800" r=".7"/></g></svg>
<div class="t" style="left:555.4px;top:599.1px;font-size:9px;color:#b45f1a;font-weight:400;letter-spacing:0.05px;transform:translate(0,-50%);">"diani sea lodge ausflüge"</div>
<div class="b" style="left:208.75px;top:609.8px;width:123.75px;height:15.20px;background:#fffbec;border:1px solid #fce9b0;border-radius:3px;box-sizing:border-box;"></div>
<svg class="ic" style="left:212.95px;top:613.40px;width:6px;height:8px" viewBox="0 0 6 8"><g fill="#d9c9a0"><circle cx="1.800" cy="1.200" r=".7"/><circle cx="4.200" cy="1.200" r=".7"/><circle cx="1.800" cy="4" r=".7"/><circle cx="4.200" cy="4" r=".7"/><circle cx="1.800" cy="6.800" r=".7"/><circle cx="4.200" cy="6.800" r=".7"/></g></svg>
<div class="t" style="left:222.65px;top:617.5px;font-size:9px;color:#b45f1a;font-weight:400;letter-spacing:0.05px;transform:translate(0,-50%);">"diani sea resort kenia"</div>
<div class="b" style="left:336px;top:609.8px;width:120.25px;height:15.20px;background:#fffbec;border:1px solid #fce9b0;border-radius:3px;box-sizing:border-box;"></div>
<svg class="ic" style="left:340.20px;top:613.40px;width:6px;height:8px" viewBox="0 0 6 8"><g fill="#d9c9a0"><circle cx="1.800" cy="1.200" r=".7"/><circle cx="4.200" cy="1.200" r=".7"/><circle cx="1.800" cy="4" r=".7"/><circle cx="4.200" cy="4" r=".7"/><circle cx="1.800" cy="6.800" r=".7"/><circle cx="4.200" cy="6.800" r=".7"/></g></svg>
<div class="t" style="left:349.9px;top:617.5px;font-size:9px;color:#b45f1a;font-weight:400;letter-spacing:0.05px;transform:translate(0,-50%);">"salt lake safari lodge"</div>
<div class="b" style="left:459.8px;top:609.8px;width:136.45px;height:15.20px;background:#fffbec;border:1px solid #fce9b0;border-radius:3px;box-sizing:border-box;"></div>
<svg class="ic" style="left:464.00px;top:613.40px;width:6px;height:8px" viewBox="0 0 6 8"><g fill="#d9c9a0"><circle cx="1.800" cy="1.200" r=".7"/><circle cx="4.200" cy="1.200" r=".7"/><circle cx="1.800" cy="4" r=".7"/><circle cx="4.200" cy="4" r=".7"/><circle cx="1.800" cy="6.800" r=".7"/><circle cx="4.200" cy="6.800" r=".7"/></g></svg>
<div class="t" style="left:473.7px;top:617.5px;font-size:9px;color:#b45f1a;font-weight:400;letter-spacing:0.05px;transform:translate(0,-50%);">"african safari club hotels"</div>
<div class="b" style="left:208.75px;top:628.1999999999999px;width:136.65px;height:15.20px;background:#fffbec;border:1px solid #fce9b0;border-radius:3px;box-sizing:border-box;"></div>
<svg class="ic" style="left:212.95px;top:631.80px;width:6px;height:8px" viewBox="0 0 6 8"><g fill="#d9c9a0"><circle cx="1.800" cy="1.200" r=".7"/><circle cx="4.200" cy="1.200" r=".7"/><circle cx="1.800" cy="4" r=".7"/><circle cx="4.200" cy="4" r=".7"/><circle cx="1.800" cy="6.800" r=".7"/><circle cx="4.200" cy="6.800" r=".7"/></g></svg>
<div class="t" style="left:222.65px;top:635.9px;font-size:9px;color:#b45f1a;font-weight:400;letter-spacing:0.05px;transform:translate(0,-50%);">"african safari club hotels"</div>
<div class="b" style="left:349.6px;top:628.1999999999999px;width:118.50px;height:15.20px;background:#fffbec;border:1px solid #fce9b0;border-radius:3px;box-sizing:border-box;"></div>
<svg class="ic" style="left:353.80px;top:631.80px;width:6px;height:8px" viewBox="0 0 6 8"><g fill="#d9c9a0"><circle cx="1.800" cy="1.200" r=".7"/><circle cx="4.200" cy="1.200" r=".7"/><circle cx="1.800" cy="4" r=".7"/><circle cx="4.200" cy="4" r=".7"/><circle cx="1.800" cy="6.800" r=".7"/><circle cx="4.200" cy="6.800" r=".7"/></g></svg>
<div class="t" style="left:363.5px;top:635.9px;font-size:9px;color:#b45f1a;font-weight:400;letter-spacing:0.05px;transform:translate(0,-50%);">"angama mara prices"</div>
<div class="b" style="left:471.9px;top:628.1999999999999px;width:121.60px;height:15.20px;background:#fffbec;border:1px solid #fce9b0;border-radius:3px;box-sizing:border-box;"></div>
<svg class="ic" style="left:476.10px;top:631.80px;width:6px;height:8px" viewBox="0 0 6 8"><g fill="#d9c9a0"><circle cx="1.800" cy="1.200" r=".7"/><circle cx="4.200" cy="1.200" r=".7"/><circle cx="1.800" cy="4" r=".7"/><circle cx="4.200" cy="4" r=".7"/><circle cx="1.800" cy="6.800" r=".7"/><circle cx="4.200" cy="6.800" r=".7"/></g></svg>
<div class="t" style="left:485.79999999999995px;top:635.9px;font-size:9px;color:#b45f1a;font-weight:400;letter-spacing:0.05px;transform:translate(0,-50%);">"kenia 5 sterne hotels"</div>
<div class="b" style="left:696px;top:558.5px;width:480.80px;height:32.30px;background:#fff;border:1px solid #e9ecf2;border-radius:6px;box-sizing:border-box;box-shadow:0 1px 2px rgba(20,30,70,.03);"></div>
<svg class="ic" style="left:702.05px;top:569.75px;width:10.5px;height:10.5px;color:#6b7385" viewBox="0 0 24 24" fill="none" stroke="currentColor" stroke-width="2.4" stroke-linecap="round" stroke-linejoin="round" ><path d="m6 9 6 6 6-6"/></svg>
<div class="b" style="left:719.3px;top:570px;width:9.40px;height:9.40px;background:radial-gradient(circle at 35% 30%,#f0584a,#d22b20 70%);border-radius:50%;"></div>
<div class="t" style="left:729px;top:575px;font-size:10.5px;color:#1d2433;font-weight:400;letter-spacing:0.13px;-webkit-text-stroke:0.2px #1d2433;transform:translate(0,-50%);">Preis- und Rabatt-Begriffe</div>
<div class="t" style="left:859.7px;top:575.2px;font-size:8.3px;color:#9aa1b0;font-weight:400;letter-spacing:0.1px;transform:translate(0,-50%);">14 KW</div>
<div class="b" style="left:891px;top:568.4px;width:31.00px;height:12.60px;background:#dcfce7;border-radius:3px;"></div>
<div class="t" style="left:906.5px;top:574.9px;font-size:7.5px;color:#2ea458;font-weight:400;letter-spacing:0.12px;-webkit-text-stroke:0.1px #2ea458;transform:translate(-50%,-50%);">Synced</div>
<svg class="ic" style="left:1083.45px;top:569.60px;width:9.8px;height:9.8px;color:#c5cad6" viewBox="0 0 24 24" fill="none" stroke="currentColor" stroke-width="2.1" stroke-linecap="round" stroke-linejoin="round" ><path d="M11.525 2.295a.53.53 0 0 1 .95 0l2.31 4.679a2.123 2.123 0 0 0 1.595 1.16l5.166.756a.53.53 0 0 1 .294.904l-3.736 3.638a2.123 2.123 0 0 0-.611 1.878l.882 5.14a.53.53 0 0 1-.771.56l-4.618-2.428a2.122 2.122 0 0 0-1.973 0L6.396 21.01a.53.53 0 0 1-.77-.56l.881-5.139a2.122 2.122 0 0 0-.611-1.879L2.16 9.795a.53.53 0 0 1 .294-.906l5.165-.755a2.122 2.122 0 0 0 1.597-1.16z"/></svg>
<svg class="ic" style="left:1096.35px;top:569.60px;width:9.8px;height:9.8px;color:#979eb0" viewBox="0 0 24 24" fill="none" stroke="currentColor" stroke-width="2.1" stroke-linecap="round" stroke-linejoin="round" ><rect width="14" height="14" x="8" y="8" rx="2" ry="2"/><path d="M4 16c-1.100 0-2-.9-2-2V4c0-1.100.9-2 2-2h10c1.100 0 2 .9 2 2"/></svg>
<svg class="ic" style="left:1109.25px;top:569.60px;width:9.8px;height:9.8px;color:#979eb0" viewBox="0 0 24 24" fill="none" stroke="currentColor" stroke-width="2.1" stroke-linecap="round" stroke-linejoin="round" ><path d="M21.174 6.812a1 1 0 0 0-3.986-3.987L3.842 16.174a2 2 0 0 0-.5.830l-1.321 4.352a.5.5 0 0 0 .623.622l4.353-1.320a2 2 0 0 0 .830-.497z"/><path d="m15 5 4 4"/></svg>
<svg class="ic" style="left:1122.15px;top:569.60px;width:9.8px;height:9.8px;color:#979eb0" viewBox="0 0 24 24" fill="none" stroke="currentColor" stroke-width="2.1" stroke-linecap="round" stroke-linejoin="round" ><path d="M21 15v4a2 2 0 0 1-2 2H5a2 2 0 0 1-2-2v-4"/><polyline points="17 8 12 3 7 8"/><line x1="12" x2="12" y1="3" y2="15"/></svg>
<svg class="ic" style="left:1135.05px;top:569.60px;width:9.8px;height:9.8px;color:#979eb0" viewBox="0 0 24 24" fill="none" stroke="currentColor" stroke-width="2.1" stroke-linecap="round" stroke-linejoin="round" ><path d="M9 17H7A5 5 0 0 1 7 7h2"/><path d="M15 7h2a5 5 0 1 1 0 10h-2"/><line x1="8" x2="16" y1="12" y2="12"/></svg>
<svg class="ic" style="left:1147.95px;top:569.60px;width:9.8px;height:9.8px;color:#f59e0b" viewBox="0 0 24 24" fill="none" stroke="currentColor" stroke-width="2.1" stroke-linecap="round" stroke-linejoin="round" ><path d="M9.937 15.500A2 2 0 0 0 8.500 14.063l-6.135-1.582a.5.5 0 0 1 0-.962L8.500 9.936A2 2 0 0 0 9.937 8.500l1.582-6.135a.5.5 0 0 1 .963 0L14.063 8.500A2 2 0 0 0 15.500 9.937l6.135 1.581a.5.5 0 0 1 0 .964L15.500 14.063a2 2 0 0 0-1.437 1.437l-1.582 6.135a.5.5 0 0 1-.963 0z"/><path d="M20 3v4"/><path d="M22 5h-4"/><path d="M4 17v2"/><path d="M5 18H3"/></svg>
<svg class="ic" style="left:1160.85px;top:569.60px;width:9.8px;height:9.8px;color:#f07f7f" viewBox="0 0 24 24" fill="none" stroke="currentColor" stroke-width="2.1" stroke-linecap="round" stroke-linejoin="round" ><path d="M3 6h18"/><path d="M19 6v14c0 1-1 2-2 2H7c-1 0-2-1-2-2V6"/><path d="M8 6V4c0-1 1-2 2-2h4c1 0 2 1 2 2v2"/><line x1="10" x2="10" y1="11" y2="17"/><line x1="14" x2="14" y1="11" y2="17"/></svg>
<div id="bot"></div>
<div class="b" style="left:0px;top:0px;width:179.20px;height:639.00px;background:#151d4b;box-shadow:1px 0 5px rgba(20,25,60,.14);"></div>
<div class="b" style="left:0px;top:56px;width:179.20px;height:1.00px;background:#2a3363;"></div>
<div class="b" style="left:0px;top:520px;width:179.20px;height:119.00px;background:#1c2452;border-top:1px solid #2a3260;box-sizing:border-box;"></div>
<svg class="ic" style="left:18.300px;top:18.300px;width:14px;height:18.500px" viewBox="0 0 28 37">
<defs><linearGradient id="fg" x1="0" y1="0" x2="0" y2="1"><stop offset="0" stop-color="#fcc443"/><stop offset="0.400" stop-color="#f9952f"/><stop offset="1" stop-color="#ea5528"/></linearGradient>
<linearGradient id="fg2" x1="0" y1="0" x2="0" y2="1"><stop offset="0" stop-color="#fff0a0"/><stop offset="0.500" stop-color="#fdc040"/><stop offset="1" stop-color="#f98a2c" stop-opacity="0"/></linearGradient></defs>
<path d="M12.500 0.500C14.500 4 17.800 8 17.800 13.500C19.500 12.500 21.300 11 21.800 9.300C25 14 28 19 27.500 25C27 31 23 35 18 36C20.500 32.500 19 28.500 14 25C9.500 28.500 8 32.500 10 36C4 34.500 0.500 30.500 0.500 25C0.500 19.500 4 16 6.800 12.500C9.500 9 11.500 5 12.500 0.500Z" fill="url(#fg)"/>
<path d="M12.600 2C14.500 6 16.300 10 15 15C14 18.500 10.500 21 9.500 25C8.800 20 9.500 15.500 11 11C12 8 12.500 5 12.600 2Z" fill="url(#fg2)"/>
<path d="M15.800 6.500C17.500 10 18.300 13.500 17.800 18C19.300 16 20.800 13.500 21.200 11.500" fill="none" stroke="#2a1530" stroke-width="1.500" stroke-linecap="round" opacity=".7"/>
</svg>
<div class="t" style="left:45.6px;top:28px;font-size:12.5px;color:#ffffff;font-weight:700;letter-spacing:0.2px;transform:translate(0,-50%);">FireMetrix</div>
<div class="b" style="left:165.2px;top:55.6px;width:23.20px;height:23.20px;background:#151d4b;border-radius:50%;border:1px solid #343e72;box-sizing:border-box;box-shadow:0 1px 4px rgba(0,0,0,.22);"></div>
<svg class="ic" style="left:170.80px;top:61.70px;width:11.6px;height:11.6px;color:#f2f4fb" viewBox="0 0 24 24" fill="none" stroke="currentColor" stroke-width="2.9" stroke-linecap="round" stroke-linejoin="round" ><rect width="18" height="18" x="3" y="3" rx="2"/><path d="M9 3v18"/><path d="m16 15-3-3 3-3"/></svg>
<div class="t" style="left:14.2px;top:74.4px;font-size:7.2px;color:#9aa2c6;font-weight:700;letter-spacing:0.95px;transform:translate(0,-50%);">NAVIGATION</div>
<svg class="ic" style="left:16.40px;top:94.80px;width:11.8px;height:11.8px;color:#d3d7ea" viewBox="0 0 24 24" fill="none" stroke="currentColor" stroke-width="2.5" stroke-linecap="round" stroke-linejoin="round" ><rect width="7" height="9" x="3" y="3" rx="1"/><rect width="7" height="5" x="14" y="3" rx="1"/><rect width="7" height="9" x="14" y="12" rx="1"/><rect width="7" height="5" x="3" y="16" rx="1"/></svg>
<div class="t" style="left:37px;top:100.8px;font-size:10.5px;color:#d3d7ea;font-weight:400;letter-spacing:-0.17px;-webkit-text-stroke:0.2px #d3d7ea;transform:translate(0,-50%);">Global Dashboard</div>
<svg class="ic" style="left:16.40px;top:123.30px;width:11.8px;height:11.8px;color:#d3d7ea" viewBox="0 0 24 24" fill="none" stroke="currentColor" stroke-width="2.5" stroke-linecap="round" stroke-linejoin="round" ><rect width="8" height="4" x="8" y="2" rx="1" ry="1"/><path d="M16 4h2a2 2 0 0 1 2 2v14a2 2 0 0 1-2 2H6a2 2 0 0 1-2-2V6a2 2 0 0 1 2-2h2"/><path d="M12 11h4"/><path d="M12 16h4"/><path d="M8 11h.01"/><path d="M8 16h.01"/></svg>
<div class="t" style="left:37px;top:129.3px;font-size:10.5px;color:#d3d7ea;font-weight:400;letter-spacing:-0.1px;-webkit-text-stroke:0.2px #d3d7ea;transform:translate(0,-50%);">Planning</div>
<svg class="ic" style="left:16.50px;top:166.50px;width:11px;height:11px;color:#eef0f8" viewBox="0 0 24 24" fill="none" stroke="currentColor" stroke-width="2.6" stroke-linecap="round" stroke-linejoin="round" ><path d="m9 18 6-6-6-6"/></svg>
<svg class="ic" style="left:33.30px;top:166.00px;width:12px;height:12px;color:#d9432f" viewBox="0 0 24 24" fill="#d9432f" stroke="currentColor" stroke-width="2" stroke-linecap="round" stroke-linejoin="round" ><path d="M11.525 2.295a.53.53 0 0 1 .95 0l2.31 4.679a2.123 2.123 0 0 0 1.595 1.16l5.166.756a.53.53 0 0 1 .294.904l-3.736 3.638a2.123 2.123 0 0 0-.611 1.878l.882 5.14a.53.53 0 0 1-.771.56l-4.618-2.428a2.122 2.122 0 0 0-1.973 0L6.396 21.01a.53.53 0 0 1-.77-.56l.881-5.139a2.122 2.122 0 0 0-.611-1.879L2.16 9.795a.53.53 0 0 1 .294-.906l5.165-.755a2.122 2.122 0 0 0 1.597-1.16z"/></svg>
<div class="t" style="left:51px;top:172px;font-size:10.5px;color:#e4e7f3;font-weight:700;letter-spacing:-0.15px;transform:translate(0,-50%);">Favorites</div>
<div class="t" style="left:159.4px;top:172px;font-size:8px;color:#8a93b8;font-weight:400;font-family:'Liberation Mono',monospace;transform:translate(-100%,-50%);transform:translate(-100%,-50%) scaleX(.87);transform-origin:100% 50%;">10</div>
<div class="t" style="left:13.7px;top:207.8px;font-size:7.2px;color:#9aa2c6;font-weight:700;letter-spacing:0.9px;transform:translate(0,-50%);">PLATFORMS</div>
<svg class="ic" style="left:16.50px;top:228.80px;width:11px;height:11px;color:#eef0f8" viewBox="0 0 24 24" fill="none" stroke="currentColor" stroke-width="2.6" stroke-linecap="round" stroke-linejoin="round" ><path d="m9 18 6-6-6-6"/></svg>
<svg class="ic" style="left:33.300px;top:228.800px;width:12px;height:11px" viewBox="0 0 24 22">
<path d="M8.200 1.800 L15 1.800 L23.300 17 a3.400 3.400 0 0 1 -5.900 3.400 Z" fill="#4285f4"/>
<path d="M9.400 1.600 a3.500 3.500 0 0 1 4.700 1.300 l.5.9 L6.600 18.800 L0.700 15.400 Z" fill="#fbbc04"/>
<circle cx="3.900" cy="17.800" r="3.500" fill="#34a853"/></svg>
<div class="t" style="left:51px;top:234.3px;font-size:10.5px;color:#e4e7f3;font-weight:700;letter-spacing:-0.15px;transform:translate(0,-50%);">Google-Ads</div>
<div class="b" style="left:14px;top:538.7px;width:148.20px;height:27.70px;background:#2c3564;border-radius:6px;"></div>
<svg class="ic" style="left:58.65px;top:546.95px;width:11.5px;height:11.5px;color:#f2f4fa" viewBox="0 0 24 24" fill="none" stroke="currentColor" stroke-width="2.5" stroke-linecap="round" stroke-linejoin="round" ><path d="M12.22 2h-.44a2 2 0 0 0-2 2v.18a2 2 0 0 1-1 1.73l-.43.25a2 2 0 0 1-2 0l-.15-.08a2 2 0 0 0-2.73.73l-.22.38a2 2 0 0 0 .73 2.73l.15.1a2 2 0 0 1 1 1.72v.51a2 2 0 0 1-1 1.74l-.15.09a2 2 0 0 0-.73 2.73l.22.38a2 2 0 0 0 2.73.73l.15-.08a2 2 0 0 1 2 0l.43.25a2 2 0 0 1 1 1.73V20a2 2 0 0 0 2 2h.44a2 2 0 0 0 2-2v-.18a2 2 0 0 1 1-1.73l.43-.25a2 2 0 0 1 2 0l.15.08a2 2 0 0 0 2.73-.73l.22-.39a2 2 0 0 0-.73-2.73l-.15-.08a2 2 0 0 1-1-1.74v-.5a2 2 0 0 1 1-1.74l.15-.09a2 2 0 0 0 .73-2.73l-.22-.38a2 2 0 0 0-2.73-.73l-.15.08a2 2 0 0 1-2 0l-.43-.25a2 2 0 0 1-1-1.73V4a2 2 0 0 0-2-2z"/><circle cx="12" cy="12" r="3"/></svg>
<div class="t" style="left:76.2px;top:552.9px;font-size:10.5px;color:#ffffff;font-weight:700;letter-spacing:-0.05px;transform:translate(0,-50%);">Settings</div>
<div class="b" style="left:14px;top:575.7px;width:148.20px;height:26.30px;border:1px solid #283160;border-radius:6px;box-sizing:border-box;"></div>
<svg class="ic" style="left:61.75px;top:583.45px;width:11.5px;height:11.5px;color:#dfe2f0" viewBox="0 0 24 24" fill="none" stroke="currentColor" stroke-width="2.4" stroke-linecap="round" stroke-linejoin="round" ><path d="M9 21H5a2 2 0 0 1-2-2V5a2 2 0 0 1 2-2h4"/><polyline points="16 17 21 12 16 7"/><line x1="21" x2="9" y1="12" y2="12"/></svg>
<div class="t" style="left:79.4px;top:589.3px;font-size:10.5px;color:#dfe2f0;font-weight:400;letter-spacing:-0.05px;transform:translate(0,-50%);">Log out</div>
<div class="t" style="left:17px;top:616.9px;font-size:6.8px;color:#4d567f;font-weight:400;letter-spacing:0.1px;transform:translate(0,-50%);">V8-BUILD258</div>
<div id="edge"></div>
</div></body></html>
